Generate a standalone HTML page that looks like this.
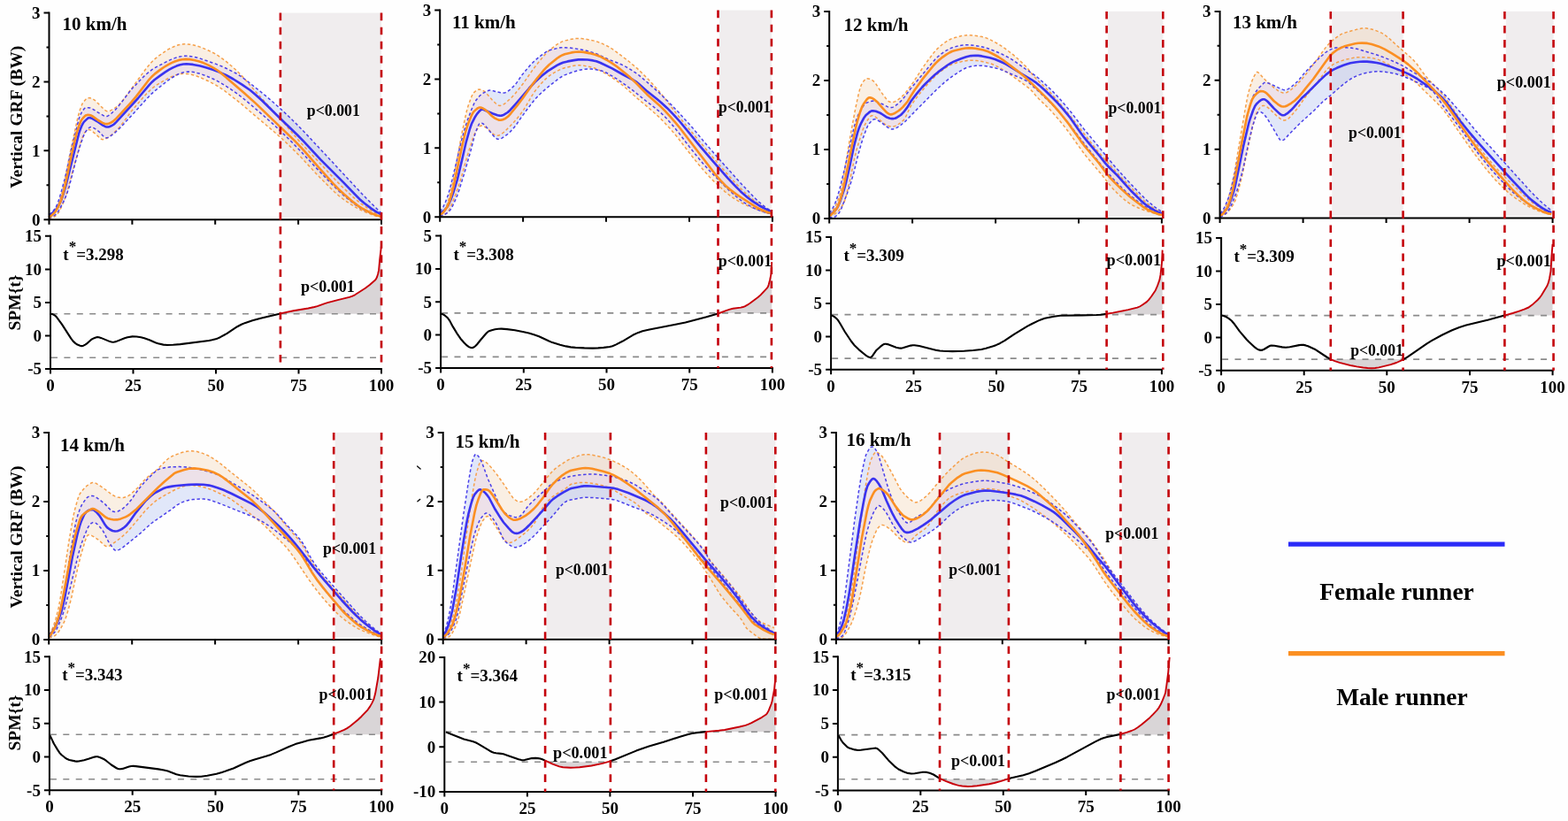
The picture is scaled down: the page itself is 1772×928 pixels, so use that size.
<!DOCTYPE html>
<html><head><meta charset="utf-8"><title>Vertical GRF SPM</title>
<style>html,body{margin:0;padding:0;background:#fefefe;width:1772px;height:928px;overflow:hidden}svg{display:block}</style>
</head><body>
<svg width="1772" height="928" viewBox="0 0 1772 928" style="font-family:'Liberation Serif','Times New Roman',serif;font-weight:bold"><rect x="318.4" y="14.6" width="112.6" height="231.1" fill="#f0edee"/>
<path d="M55,243 56.5,243.1 58.2,242.5 60,241.1 62,238.8 63.5,236.7 64.5,234.8 65.8,231.8 67.2,227.4 70,217.7 72.5,207.5 79,173.7 88,132.4 90.2,124.7 92,119.7 93.2,117 95.2,114.3 97.2,112.1 99,110.8 100.5,110.5 103,111 105.2,112 107.5,113.5 116.8,122.9 119.5,125.1 121,125.8 122.2,125.8 124,125.4 126,124.4 129.5,122.3 132,120.5 135,117.8 137.5,115.1 141,110.6 165.2,77.4 170,71.6 174.2,67.3 179.2,63.3 184.8,59.3 189.5,56.2 193.8,53.9 197.8,52.1 201.8,50.7 205.5,50 209,49.7 215,50.2 221.5,51.6 228.5,54 236.5,57.5 242.8,60.6 248.2,64 254.2,68.4 261.2,74.2 268,80.3 273.8,86.2 289,103.7 316.5,133.8 334,154.6 340.2,161.8 364,187.1 377.8,202 384.5,209 398.5,222.3 403.5,226.6 408.2,230.4 415.2,235.2 421.2,239 426.2,241.7 430.6,243.5 430.6,245.5 426,244.5 421,242.9 411,238.9 406.5,236.8 401.5,234.1 396,230.7 389.5,226.3 384,222.2 378,217 370.8,209.9 358.5,197.5 339.2,176.8 328.5,166.1 319.2,157.3 309,148.3 289.8,132.1 273,117.7 267,112.9 253.8,102.7 248,98.7 242.8,95.5 234.5,91.3 227.8,88.2 222.2,86 217.2,84.5 212.5,83.6 208,83.3 204.5,83.5 200.8,84.2 197,85.4 192.8,87.2 188,89.6 182.5,92.8 175.2,97.3 171.8,100 165.8,105.7 158.5,113.9 148.2,126.1 138.8,139 134.8,143.9 130.5,148.4 127.2,151.6 124.2,154 121,156.1 119,157.1 117.5,157.6 116,157.7 114.5,157.3 112.8,156.1 109,152.3 105.2,149.1 103.2,147.6 101.5,146.7 100.5,146.6 99.5,146.9 98,147.8 96.5,149 95.5,150.4 94.2,153 91,161.7 76,216.3 73.5,224.1 70.2,232.3 67.2,238.6 66,240.6 64.8,242.2 62,244.6 59.5,246.2 57.2,247 55,247Z" fill="rgba(241,205,165,0.3)" stroke="none"/>
<path d="M55,242 56.2,241.8 57.8,240.9 59.2,239.5 60.8,237.6 63.8,232.9 66.2,226.7 69,217.6 73.2,202.2 76.5,188.3 81,167 89,135.1 90,131.9 91.2,129.1 93,125.8 94.8,123.3 95.8,122.3 96.8,121.8 99.8,121.7 102,122 104.8,123.3 110.8,127.1 117.2,130.8 118.8,131.3 120,131.5 121,131.4 122.2,130.9 125,129 130,124.5 136.5,116.8 145.5,104.9 149.2,100.3 161.2,87.7 165.5,83.7 169.5,80.4 172.5,78.2 175.5,76.4 187,70.3 193.8,67.1 198.2,65.4 202.2,64.2 206.2,63.5 210,63.2 213.5,63.4 217.8,64.1 222.2,65 227,66.4 244.2,72.4 250.2,74.8 256.2,77.5 266,82.5 272,86.2 279.2,91.5 293.8,103 305,112.3 317.2,123.1 326.2,131.5 336,141.1 345.8,151.2 407.2,217.1 419,229.2 430.6,240.6 430.6,244 426.2,243.2 421.5,241.8 416,239.6 409.5,236.6 405.8,234.4 401.5,231.5 397,228 391.2,223.2 383.2,216.3 375.8,209 359.2,191.8 339.2,170.3 328,158.8 319.2,150.2 308.8,140.4 297,130 278.2,113.9 269.5,106.9 261.5,101.3 253.8,96.3 247,92.3 241,89.3 231.8,85.3 225,83 218.8,81.5 213,81.1 209.5,81.3 205.8,82.2 201.8,83.7 197.8,85.8 193.5,88.4 189,91.6 175.5,102.3 171.2,106.1 166.5,110.9 152.2,126.8 136.2,144 129.8,150.1 123.2,154.9 122,155.5 120.8,155.8 119.5,155.7 118.5,155.3 116.8,153.9 111.8,148.7 107.2,145.4 104.5,143.9 103.2,143.5 102,143.7 100.8,144.4 99.5,145.6 96.8,148.8 95.8,150.6 94.2,154.1 91.5,161.8 89.2,169.1 85.2,183.3 78,211.8 75.5,219.2 73,225.5 67.5,236.2 65.8,239.1 64.2,241.1 62,243.1 59.2,244.9 57,245.8 55,246Z" fill="rgba(158,178,238,0.3)" stroke="none"/>
<clipPath id="cb0"><path d="M55,242 56.2,241.8 57.8,240.9 59.2,239.5 60.8,237.6 63.8,232.9 66.2,226.7 69,217.6 73.2,202.2 76.5,188.3 81,167 89,135.1 90,131.9 91.2,129.1 93,125.8 94.8,123.3 95.8,122.3 96.8,121.8 99.8,121.7 102,122 104.8,123.3 110.8,127.1 117.2,130.8 118.8,131.3 120,131.5 121,131.4 122.2,130.9 125,129 130,124.5 136.5,116.8 145.5,104.9 149.2,100.3 161.2,87.7 165.5,83.7 169.5,80.4 172.5,78.2 175.5,76.4 187,70.3 193.8,67.1 198.2,65.4 202.2,64.2 206.2,63.5 210,63.2 213.5,63.4 217.8,64.1 222.2,65 227,66.4 244.2,72.4 250.2,74.8 256.2,77.5 266,82.5 272,86.2 279.2,91.5 293.8,103 305,112.3 317.2,123.1 326.2,131.5 336,141.1 345.8,151.2 407.2,217.1 419,229.2 430.6,240.6 430.6,244 426.2,243.2 421.5,241.8 416,239.6 409.5,236.6 405.8,234.4 401.5,231.5 397,228 391.2,223.2 383.2,216.3 375.8,209 359.2,191.8 339.2,170.3 328,158.8 319.2,150.2 308.8,140.4 297,130 278.2,113.9 269.5,106.9 261.5,101.3 253.8,96.3 247,92.3 241,89.3 231.8,85.3 225,83 218.8,81.5 213,81.1 209.5,81.3 205.8,82.2 201.8,83.7 197.8,85.8 193.5,88.4 189,91.6 175.5,102.3 171.2,106.1 166.5,110.9 152.2,126.8 136.2,144 129.8,150.1 123.2,154.9 122,155.5 120.8,155.8 119.5,155.7 118.5,155.3 116.8,153.9 111.8,148.7 107.2,145.4 104.5,143.9 103.2,143.5 102,143.7 100.8,144.4 99.5,145.6 96.8,148.8 95.8,150.6 94.2,154.1 91.5,161.8 89.2,169.1 85.2,183.3 78,211.8 75.5,219.2 73,225.5 67.5,236.2 65.8,239.1 64.2,241.1 62,243.1 59.2,244.9 57,245.8 55,246Z"/></clipPath>
<path d="M55,243 56.5,243.1 58.2,242.5 60,241.1 62,238.8 63.5,236.7 64.5,234.8 65.8,231.8 67.2,227.4 70,217.7 72.5,207.5 79,173.7 88,132.4 90.2,124.7 92,119.7 93.2,117 95.2,114.3 97.2,112.1 99,110.8 100.5,110.5 103,111 105.2,112 107.5,113.5 116.8,122.9 119.5,125.1 121,125.8 122.2,125.8 124,125.4 126,124.4 129.5,122.3 132,120.5 135,117.8 137.5,115.1 141,110.6 165.2,77.4 170,71.6 174.2,67.3 179.2,63.3 184.8,59.3 189.5,56.2 193.8,53.9 197.8,52.1 201.8,50.7 205.5,50 209,49.7 215,50.2 221.5,51.6 228.5,54 236.5,57.5 242.8,60.6 248.2,64 254.2,68.4 261.2,74.2 268,80.3 273.8,86.2 289,103.7 316.5,133.8 334,154.6 340.2,161.8 364,187.1 377.8,202 384.5,209 398.5,222.3 403.5,226.6 408.2,230.4 415.2,235.2 421.2,239 426.2,241.7 430.6,243.5 430.6,245.5 426,244.5 421,242.9 411,238.9 406.5,236.8 401.5,234.1 396,230.7 389.5,226.3 384,222.2 378,217 370.8,209.9 358.5,197.5 339.2,176.8 328.5,166.1 319.2,157.3 309,148.3 289.8,132.1 273,117.7 267,112.9 253.8,102.7 248,98.7 242.8,95.5 234.5,91.3 227.8,88.2 222.2,86 217.2,84.5 212.5,83.6 208,83.3 204.5,83.5 200.8,84.2 197,85.4 192.8,87.2 188,89.6 182.5,92.8 175.2,97.3 171.8,100 165.8,105.7 158.5,113.9 148.2,126.1 138.8,139 134.8,143.9 130.5,148.4 127.2,151.6 124.2,154 121,156.1 119,157.1 117.5,157.6 116,157.7 114.5,157.3 112.8,156.1 109,152.3 105.2,149.1 103.2,147.6 101.5,146.7 100.5,146.6 99.5,146.9 98,147.8 96.5,149 95.5,150.4 94.2,153 91,161.7 76,216.3 73.5,224.1 70.2,232.3 67.2,238.6 66,240.6 64.8,242.2 62,244.6 59.5,246.2 57.2,247 55,247Z" clip-path="url(#cb0)" fill="rgba(255,230,235,0.47)" stroke="none"/>
<path d="M55,243 56.5,243.1 58.2,242.5 60,241.1 62,238.8 63.5,236.7 64.5,234.8 65.8,231.8 67.2,227.4 70,217.7 72.5,207.5 79,173.7 88,132.4 90.2,124.7 92,119.7 93.2,117 95.2,114.3 97.2,112.1 99,110.8 100.5,110.5 103,111 105.2,112 107.5,113.5 116.8,122.9 119.5,125.1 121,125.8 122.2,125.8 124,125.4 126,124.4 129.5,122.3 132,120.5 135,117.8 137.5,115.1 141,110.6 165.2,77.4 170,71.6 174.2,67.3 179.2,63.3 184.8,59.3 189.5,56.2 193.8,53.9 197.8,52.1 201.8,50.7 205.5,50 209,49.7 215,50.2 221.5,51.6 228.5,54 236.5,57.5 242.8,60.6 248.2,64 254.2,68.4 261.2,74.2 268,80.3 273.8,86.2 289,103.7 316.5,133.8 334,154.6 340.2,161.8 364,187.1 377.8,202 384.5,209 398.5,222.3 403.5,226.6 408.2,230.4 415.2,235.2 421.2,239 426.2,241.7 430.6,243.5" fill="none" stroke="#f6a04a" stroke-width="1.5" stroke-dasharray="3.4 2.6"/>
<path d="M55,247 57.2,247 59.5,246.2 62,244.6 64.8,242.2 66,240.6 67.2,238.6 70.2,232.3 73.5,224.1 76,216.3 91,161.7 94.2,153 95.5,150.4 96.5,149 98,147.8 99.5,146.9 100.5,146.6 101.5,146.7 103.2,147.6 105.2,149.1 109,152.3 112.8,156.1 114.5,157.3 116,157.7 117.5,157.6 119,157.1 121,156.1 124.2,154 127.2,151.6 130.5,148.4 134.8,143.9 138.8,139 148.2,126.1 158.5,113.9 165.8,105.7 171.8,100 175.2,97.3 182.5,92.8 188,89.6 192.8,87.2 197,85.4 200.8,84.2 204.5,83.5 208,83.3 212.5,83.6 217.2,84.5 222.2,86 227.8,88.2 234.5,91.3 242.8,95.5 248,98.7 253.8,102.7 267,112.9 273,117.7 289.8,132.1 309,148.3 319.2,157.3 328.5,166.1 339.2,176.8 358.5,197.5 370.8,209.9 378,217 384,222.2 389.5,226.3 396,230.7 401.5,234.1 406.5,236.8 411,238.9 421,242.9 426,244.5 430.6,245.5" fill="none" stroke="#f6a04a" stroke-width="1.5" stroke-dasharray="3.4 2.6"/>
<path d="M55,242 56.2,241.8 57.8,240.9 59.2,239.5 60.8,237.6 63.8,232.9 66.2,226.7 69,217.6 73.2,202.2 76.5,188.3 81,167 89,135.1 90,131.9 91.2,129.1 93,125.8 94.8,123.3 95.8,122.3 96.8,121.8 99.8,121.7 102,122 104.8,123.3 110.8,127.1 117.2,130.8 118.8,131.3 120,131.5 121,131.4 122.2,130.9 125,129 130,124.5 136.5,116.8 145.5,104.9 149.2,100.3 161.2,87.7 165.5,83.7 169.5,80.4 172.5,78.2 175.5,76.4 187,70.3 193.8,67.1 198.2,65.4 202.2,64.2 206.2,63.5 210,63.2 213.5,63.4 217.8,64.1 222.2,65 227,66.4 244.2,72.4 250.2,74.8 256.2,77.5 266,82.5 272,86.2 279.2,91.5 293.8,103 305,112.3 317.2,123.1 326.2,131.5 336,141.1 345.8,151.2 407.2,217.1 419,229.2 430.6,240.6" fill="none" stroke="#4a40ea" stroke-width="1.5" stroke-dasharray="3.4 2.6"/>
<path d="M55,246 57,245.8 59.2,244.9 62,243.1 64.2,241.1 65.8,239.1 67.5,236.2 73,225.5 75.5,219.2 78,211.8 85.2,183.3 89.2,169.1 91.5,161.8 94.2,154.1 95.8,150.6 96.8,148.8 99.5,145.6 100.8,144.4 102,143.7 103.2,143.5 104.5,143.9 107.2,145.4 111.8,148.7 116.8,153.9 118.5,155.3 119.5,155.7 120.8,155.8 122,155.5 123.2,154.9 129.8,150.1 136.2,144 152.2,126.8 166.5,110.9 171.2,106.1 175.5,102.3 189,91.6 193.5,88.4 197.8,85.8 201.8,83.7 205.8,82.2 209.5,81.3 213,81.1 218.8,81.5 225,83 231.8,85.3 241,89.3 247,92.3 253.8,96.3 261.5,101.3 269.5,106.9 278.2,113.9 297,130 308.8,140.4 319.2,150.2 328,158.8 339.2,170.3 359.2,191.8 375.8,209 383.2,216.3 391.2,223.2 397,228 401.5,231.5 405.8,234.4 409.5,236.6 416,239.6 421.5,241.8 426.2,243.2 430.6,244" fill="none" stroke="#4a40ea" stroke-width="1.5" stroke-dasharray="3.4 2.6"/>
<path d="M55,243 56.5,242.5 58.2,241.5 61.8,238.7 63,237.3 64.5,235.3 66.2,232.3 68.2,228.5 69.5,225.5 72,218.1 75.2,206.8 80.8,184.2 89.2,150.7 90.5,146.8 92.2,142.5 93.8,139.4 95,137.6 99,133.9 100.2,133.2 101.5,133 103.5,133.7 106.2,135.1 110,137.3 116.2,141.7 119.2,143.2 120.8,143.5 122.5,143.5 124.2,143 126.5,141.9 128.8,140.5 131.2,138.1 156,111 168.8,95.8 171.8,92.7 174.5,90.2 180.8,85.6 186.5,81.6 191.2,78.7 195.5,76.4 199.5,74.6 203.5,73.3 207.2,72.5 210.8,72.3 218,72.9 226.2,74.6 232.5,76.3 240.5,78.8 248,81.6 256,85.2 263.8,89.5 273.5,95.6 282.8,102 289,107.2 296.2,113.8 315.8,133 336,152.5 343.5,160.2 362.5,180.6 387.8,205.8 400.8,219.4 406.2,224.9 411.8,229.7 419.8,235.9 425.5,239.6 430.6,242.2" fill="none" stroke="#3a33f0" stroke-width="2.6" stroke-linejoin="round"/>
<path d="M55,245.4 56.5,244.8 58.2,243.6 61.5,240.5 62.8,239 65.8,233.8 69,226.4 71,219.9 73.5,210.2 81.2,173.5 86.2,152.2 89,143 90.8,138.2 92,135.8 94.2,133 96,131.2 97.5,130.2 98.8,129.9 101.2,130 102.8,130.4 104.2,131.1 111,136 115.5,138.6 118,139.7 119.8,140.1 121.5,140.1 123.5,139.5 125.8,138.4 128.2,136.8 130.5,134.8 148.5,115.4 154,108.9 167.5,91.2 171.2,87 174.8,83.6 180,79.6 185.2,76 190,73.1 194.2,70.9 198.2,69.2 202.2,67.9 206,67.2 209.8,66.9 214.5,67.1 219.5,68 224.5,69.3 229.8,71.1 235.5,73.6 241.5,76.8 245.8,79.5 250.2,82.9 275.5,104.7 289,116.9 333.5,159.6 343.2,169.8 359.8,188.8 376.2,207.2 382.8,214 388.5,219.3 394.8,224.8 399.8,228.9 404.2,232.3 408.5,235.1 415.8,239 421.5,241.8 426.2,243.6 430.6,244.7" fill="none" stroke="#fb8f22" stroke-width="2.6" stroke-linejoin="round"/>
<path d="M316.8,354.7 316.8,354.4 331.6,351.2 348.3,348.5 355.3,347 358.6,346.1 366.3,343.3 370.1,342.2 381.6,339.1 394.8,335.9 397.8,334.9 401.1,333.3 412.8,325.8 417.8,322 424.1,316.5 425.1,315.2 426.1,313 427.1,309.8 428.1,305.4 429.1,294.1 430.9,278.4 430.9,354.7Z" fill="#d9d5d7" stroke="none"/>
<path d="M55.5,13.6 V248.2 H432.0" fill="none" stroke="#000" stroke-width="2"/>
<path d="M49.5,248.2 H55.5 M49.5,170.3 H55.5 M49.5,92.5 H55.5 M49.5,14.6 H55.5 M52.5,209.3 H55.5 M52.5,131.4 H55.5 M52.5,53.5 H55.5 M55.5,248.2 V253.7 M149.4,248.2 V253.7 M243.2,248.2 V253.7 M337.1,248.2 V253.7 M431.0,248.2 V253.7" stroke="#000" stroke-width="2" fill="none"/>
<text x="45.5" y="254.5" font-size="19" text-anchor="end" >0</text>
<text x="45.5" y="176.6" font-size="19" text-anchor="end" >1</text>
<text x="45.5" y="98.8" font-size="19" text-anchor="end" >2</text>
<text x="45.5" y="20.9" font-size="19" text-anchor="end" >3</text>
<path d="M57.0,265.8 V417.0 H432.0" fill="none" stroke="#000" stroke-width="2"/>
<path d="M51.0,266.8 H57.0 M51.0,304.4 H57.0 M51.0,341.9 H57.0 M51.0,379.4 H57.0 M51.0,417.0 H57.0 M57.0,417.0 V422.5 M150.5,417.0 V422.5 M244.0,417.0 V422.5 M337.5,417.0 V422.5 M431.0,417.0 V422.5" stroke="#000" stroke-width="2" fill="none"/>
<text x="47.0" y="273.1" font-size="19" text-anchor="end" >15</text>
<text x="47.0" y="310.7" font-size="19" text-anchor="end" >10</text>
<text x="47.0" y="348.2" font-size="19" text-anchor="end" >5</text>
<text x="47.0" y="385.8" font-size="19" text-anchor="end" >0</text>
<text x="47.0" y="423.3" font-size="19" text-anchor="end" >-5</text>
<text x="57.0" y="441.8" font-size="19" text-anchor="middle" >0</text>
<text x="150.5" y="441.8" font-size="19" text-anchor="middle" >25</text>
<text x="244.0" y="441.8" font-size="19" text-anchor="middle" >50</text>
<text x="337.5" y="441.8" font-size="19" text-anchor="middle" >75</text>
<text x="431.0" y="441.8" font-size="19" text-anchor="middle" >100</text>
<path d="M58.0,354.7 H431.0" stroke="#8a8a8a" stroke-width="1.6" stroke-dasharray="7 7.4" fill="none"/>
<path d="M58.0,404.2 H431.0" stroke="#8a8a8a" stroke-width="1.6" stroke-dasharray="7 7.4" fill="none"/>
<path d="M57.3,354.7 59,355 61.3,356.1 62.8,357.2 64.3,358.8 70,366.6 80.3,382.6 82.8,385.9 85.3,388.1 87.5,389.6 90.5,390.7 92.5,391.1 94.3,390.7 96.3,389.6 98.8,387.8 102.5,384.4 104.3,383.1 107.5,381.7 110,381.1 111.8,381.3 114,381.9 124.3,386.1 126,386.5 127.8,386.7 129.3,386.5 131.1,386.1 140.8,382.2 144.1,381.2 149.6,380.4 154.3,380.5 159.3,381.3 163.1,382.3 168.8,384.3 175.6,387.3 178.6,388.3 184.6,389.6 189.1,390 195.6,389.8 203.6,389.1 236.1,385 239.6,384.3 243.6,383.2 246.1,382.4 248.8,381.2 256.6,376.9 268.1,369.2 272.8,366.8 277.3,364.9 285.3,362.3 294.6,359.7 316.8,354.4" fill="none" stroke="#000" stroke-width="2.1" stroke-linejoin="round"/>
<path d="M316.8,354.4 331.6,351.2 348.3,348.5 355.3,347 358.6,346.1 366.3,343.3 370.1,342.2 381.6,339.1 394.8,335.9 397.8,334.9 401.1,333.3 412.8,325.8 417.8,322 424.1,316.5 425.1,315.2 426.1,313 427.1,309.8 428.1,305.4 429.1,294.1 430.9,278.4" fill="none" stroke="#c8000a" stroke-width="1.9" stroke-linejoin="round"/>
<path d="M316.9,14.6 V417.0" stroke="#c4000b" stroke-width="2.6" stroke-dasharray="8.6 7.5" fill="none"/>
<path d="M431.0,14.6 V417.0" stroke="#c4000b" stroke-width="2.6" stroke-dasharray="8.6 7.5" fill="none"/>
<text x="70.6" y="33.5" font-size="21" text-anchor="start" >10 km/h</text>
<text x="71.3" y="293.9" font-size="19" text-anchor="start" >t<tspan dy="-9.5" font-size="17">*</tspan><tspan dy="9.5">=3.298</tspan></text>
<rect x="813.0" y="11.6" width="58.9" height="231.1" fill="#f0edee"/>
<path d="M497,241 498.2,241.1 499.5,240.6 501,239.2 502.5,237.1 503.8,235 504.8,232.6 507,225.6 509.5,215.7 512.5,202.3 522,150.4 526.5,129.3 528.2,122.4 529.8,117.5 533,109 534.2,106.4 535.2,104.9 538,102.5 540.2,101.2 542,101 544.2,101.6 546.8,103 549.2,104.9 555.8,112.6 559.8,116.5 561.8,118.2 563.2,119 564.8,119.4 566.5,119.2 568.2,118.5 570.5,117.1 573.2,114.7 578.8,109.5 582.5,105.4 591.8,93.7 602,78.9 605.8,73.9 614.5,63.2 617.8,59.7 620.5,57.1 629.2,50.4 632.5,48.4 635.5,46.9 638.2,46 645.8,44.3 649.8,43.6 653.5,43.4 657.2,43.6 661.5,44.1 672.5,46.3 679,48.6 687,52.3 691.2,54.8 696.5,58.6 710.8,69.5 720.2,77.4 725.2,82.2 732.5,89.6 738.8,96.3 744.8,103.1 751,110.7 764,127.9 779.8,147.1 815,188.9 822.8,197.7 832,207.9 841,217 846.8,222.1 852,226.5 857.2,230.5 862.8,234.4 867.5,237.4 871.4,239.5 871.4,242.6 852,235.5 845.5,232.9 840.2,230.5 835,227.7 829.2,224.1 823.8,220.2 819.2,216.6 806.2,204.4 801,199.1 796,193.5 789.8,186.2 781,175.3 765.2,154.7 757.8,146 750.8,138.4 744.8,132.4 737.8,126 729.2,118.7 719,110.2 707,99.3 701.5,94.7 695.2,90.1 689.8,86.4 680.5,80.9 675.2,78.2 671.2,76.7 664,74.9 659,74.1 654.5,73.8 650.8,74 646.5,74.7 638.2,76.7 635,77.7 631,79.6 626.2,82.2 621.2,85.4 617.8,88.2 614.8,91 611.8,94.2 605,102.4 601.5,107.7 592.2,123.5 590,126.7 585.5,132.5 580.8,138.1 576,143.1 569,149.8 566,152.1 564.5,152.8 563,153.2 561.5,153.2 560,152.9 558.5,152.2 557.2,151.4 551,145.5 547,142.9 545.2,142.2 543.8,142 542.5,142.5 541.2,143.6 539.5,145.8 537.2,149.4 536,152.1 534.5,156 528.8,174.1 522.5,196.3 517.8,211.6 514.5,221.1 510,232.1 507,238.1 505.8,239.9 504.5,241.2 502.5,242.8 500.5,243.8 498.8,244.2 497,244Z" fill="rgba(241,205,165,0.3)" stroke="none"/>
<path d="M497,239 498,238.1 499,236.9 501,233.6 503.5,228.1 506.2,220.9 508,215 510,207.2 514.5,188.7 520.8,161.7 525,146.3 528.5,135.3 532.8,124 535.5,117.6 538,113.3 541.5,109 544.2,106.4 545.8,105.3 549.5,103.3 552.2,102.2 553.8,102 555.2,102.1 562.5,104.1 568.2,105.1 569.5,105.1 570.8,104.8 573.2,103.7 576.8,101 582,96 584,93.4 589.5,85.3 596,77.4 600.2,72.6 604.8,68.1 611.5,62.6 616.8,58.9 619,57.7 621.2,56.7 630.8,54.3 634.2,53.7 637.2,53.6 645.5,54.2 656.5,55.9 664.5,57.7 672.2,60.1 676.2,61.8 686.8,66.8 699.5,71.7 705,74.2 709,76.4 713.5,79.1 719.5,83.1 722.5,85.4 734.5,95.6 745.8,105.8 755.8,115.5 767,127.1 782,143.7 799.2,164.4 816,183.6 836.8,206.7 851.5,222.3 856.8,227.5 862,231.9 867,235.7 871.4,238.3 871.4,241.7 866,240.5 858,237.8 853,235.7 847.2,232.7 841.2,229.2 837,226.2 831.8,222 824.2,215.4 803,194.2 797.8,188.6 792,182 784.8,173.1 779,165.9 767.2,150.3 758.8,140.1 753.8,134.5 749.5,130.1 745.5,126.4 740.8,122.4 730.5,114.5 715.8,102.7 707,96.1 699,90.4 691.2,85.6 684.8,82 679.8,80 672.2,78.4 668.8,78 665.5,77.9 659.8,78.3 653.5,79.6 646.5,81.7 638,84.9 635,86.5 631.8,88.6 620.5,97.4 615.8,101.4 611.5,105.2 607.2,109.4 603.8,113.2 596.5,122.6 589.2,132.5 582.8,141.9 578.5,147 576,149.5 573.8,151.5 569.2,154.9 566.8,156.4 565,157.1 563.2,157.3 562,157.2 560.8,156.5 559.2,155.2 555.8,151.4 550,143.9 547.5,141.2 546,140 544.5,139.2 543,138.9 542.2,139.3 541.2,140.6 540.2,142.5 537.2,150.3 535.8,155.5 532,170.3 525,195 518.8,215.1 516.8,220.8 514.8,225.6 510.8,234.2 509.2,236.7 507.8,238.6 504.8,241.1 502,242.7 499.5,243.5 497,243.5Z" fill="rgba(158,178,238,0.3)" stroke="none"/>
<clipPath id="cb1"><path d="M497,239 498,238.1 499,236.9 501,233.6 503.5,228.1 506.2,220.9 508,215 510,207.2 514.5,188.7 520.8,161.7 525,146.3 528.5,135.3 532.8,124 535.5,117.6 538,113.3 541.5,109 544.2,106.4 545.8,105.3 549.5,103.3 552.2,102.2 553.8,102 555.2,102.1 562.5,104.1 568.2,105.1 569.5,105.1 570.8,104.8 573.2,103.7 576.8,101 582,96 584,93.4 589.5,85.3 596,77.4 600.2,72.6 604.8,68.1 611.5,62.6 616.8,58.9 619,57.7 621.2,56.7 630.8,54.3 634.2,53.7 637.2,53.6 645.5,54.2 656.5,55.9 664.5,57.7 672.2,60.1 676.2,61.8 686.8,66.8 699.5,71.7 705,74.2 709,76.4 713.5,79.1 719.5,83.1 722.5,85.4 734.5,95.6 745.8,105.8 755.8,115.5 767,127.1 782,143.7 799.2,164.4 816,183.6 836.8,206.7 851.5,222.3 856.8,227.5 862,231.9 867,235.7 871.4,238.3 871.4,241.7 866,240.5 858,237.8 853,235.7 847.2,232.7 841.2,229.2 837,226.2 831.8,222 824.2,215.4 803,194.2 797.8,188.6 792,182 784.8,173.1 779,165.9 767.2,150.3 758.8,140.1 753.8,134.5 749.5,130.1 745.5,126.4 740.8,122.4 730.5,114.5 715.8,102.7 707,96.1 699,90.4 691.2,85.6 684.8,82 679.8,80 672.2,78.4 668.8,78 665.5,77.9 659.8,78.3 653.5,79.6 646.5,81.7 638,84.9 635,86.5 631.8,88.6 620.5,97.4 615.8,101.4 611.5,105.2 607.2,109.4 603.8,113.2 596.5,122.6 589.2,132.5 582.8,141.9 578.5,147 576,149.5 573.8,151.5 569.2,154.9 566.8,156.4 565,157.1 563.2,157.3 562,157.2 560.8,156.5 559.2,155.2 555.8,151.4 550,143.9 547.5,141.2 546,140 544.5,139.2 543,138.9 542.2,139.3 541.2,140.6 540.2,142.5 537.2,150.3 535.8,155.5 532,170.3 525,195 518.8,215.1 516.8,220.8 514.8,225.6 510.8,234.2 509.2,236.7 507.8,238.6 504.8,241.1 502,242.7 499.5,243.5 497,243.5Z"/></clipPath>
<path d="M497,241 498.2,241.1 499.5,240.6 501,239.2 502.5,237.1 503.8,235 504.8,232.6 507,225.6 509.5,215.7 512.5,202.3 522,150.4 526.5,129.3 528.2,122.4 529.8,117.5 533,109 534.2,106.4 535.2,104.9 538,102.5 540.2,101.2 542,101 544.2,101.6 546.8,103 549.2,104.9 555.8,112.6 559.8,116.5 561.8,118.2 563.2,119 564.8,119.4 566.5,119.2 568.2,118.5 570.5,117.1 573.2,114.7 578.8,109.5 582.5,105.4 591.8,93.7 602,78.9 605.8,73.9 614.5,63.2 617.8,59.7 620.5,57.1 629.2,50.4 632.5,48.4 635.5,46.9 638.2,46 645.8,44.3 649.8,43.6 653.5,43.4 657.2,43.6 661.5,44.1 672.5,46.3 679,48.6 687,52.3 691.2,54.8 696.5,58.6 710.8,69.5 720.2,77.4 725.2,82.2 732.5,89.6 738.8,96.3 744.8,103.1 751,110.7 764,127.9 779.8,147.1 815,188.9 822.8,197.7 832,207.9 841,217 846.8,222.1 852,226.5 857.2,230.5 862.8,234.4 867.5,237.4 871.4,239.5 871.4,242.6 852,235.5 845.5,232.9 840.2,230.5 835,227.7 829.2,224.1 823.8,220.2 819.2,216.6 806.2,204.4 801,199.1 796,193.5 789.8,186.2 781,175.3 765.2,154.7 757.8,146 750.8,138.4 744.8,132.4 737.8,126 729.2,118.7 719,110.2 707,99.3 701.5,94.7 695.2,90.1 689.8,86.4 680.5,80.9 675.2,78.2 671.2,76.7 664,74.9 659,74.1 654.5,73.8 650.8,74 646.5,74.7 638.2,76.7 635,77.7 631,79.6 626.2,82.2 621.2,85.4 617.8,88.2 614.8,91 611.8,94.2 605,102.4 601.5,107.7 592.2,123.5 590,126.7 585.5,132.5 580.8,138.1 576,143.1 569,149.8 566,152.1 564.5,152.8 563,153.2 561.5,153.2 560,152.9 558.5,152.2 557.2,151.4 551,145.5 547,142.9 545.2,142.2 543.8,142 542.5,142.5 541.2,143.6 539.5,145.8 537.2,149.4 536,152.1 534.5,156 528.8,174.1 522.5,196.3 517.8,211.6 514.5,221.1 510,232.1 507,238.1 505.8,239.9 504.5,241.2 502.5,242.8 500.5,243.8 498.8,244.2 497,244Z" clip-path="url(#cb1)" fill="rgba(255,230,235,0.47)" stroke="none"/>
<path d="M497,241 498.2,241.1 499.5,240.6 501,239.2 502.5,237.1 503.8,235 504.8,232.6 507,225.6 509.5,215.7 512.5,202.3 522,150.4 526.5,129.3 528.2,122.4 529.8,117.5 533,109 534.2,106.4 535.2,104.9 538,102.5 540.2,101.2 542,101 544.2,101.6 546.8,103 549.2,104.9 555.8,112.6 559.8,116.5 561.8,118.2 563.2,119 564.8,119.4 566.5,119.2 568.2,118.5 570.5,117.1 573.2,114.7 578.8,109.5 582.5,105.4 591.8,93.7 602,78.9 605.8,73.9 614.5,63.2 617.8,59.7 620.5,57.1 629.2,50.4 632.5,48.4 635.5,46.9 638.2,46 645.8,44.3 649.8,43.6 653.5,43.4 657.2,43.6 661.5,44.1 672.5,46.3 679,48.6 687,52.3 691.2,54.8 696.5,58.6 710.8,69.5 720.2,77.4 725.2,82.2 732.5,89.6 738.8,96.3 744.8,103.1 751,110.7 764,127.9 779.8,147.1 815,188.9 822.8,197.7 832,207.9 841,217 846.8,222.1 852,226.5 857.2,230.5 862.8,234.4 867.5,237.4 871.4,239.5" fill="none" stroke="#f6a04a" stroke-width="1.5" stroke-dasharray="3.4 2.6"/>
<path d="M497,244 498.8,244.2 500.5,243.8 502.5,242.8 504.5,241.2 505.8,239.9 507,238.1 510,232.1 514.5,221.1 517.8,211.6 522.5,196.3 528.8,174.1 534.5,156 536,152.1 537.2,149.4 539.5,145.8 541.2,143.6 542.5,142.5 543.8,142 545.2,142.2 547,142.9 551,145.5 557.2,151.4 558.5,152.2 560,152.9 561.5,153.2 563,153.2 564.5,152.8 566,152.1 569,149.8 576,143.1 580.8,138.1 585.5,132.5 590,126.7 592.2,123.5 601.5,107.7 605,102.4 611.8,94.2 614.8,91 617.8,88.2 621.2,85.4 626.2,82.2 631,79.6 635,77.7 638.2,76.7 646.5,74.7 650.8,74 654.5,73.8 659,74.1 664,74.9 671.2,76.7 675.2,78.2 680.5,80.9 689.8,86.4 695.2,90.1 701.5,94.7 707,99.3 719,110.2 729.2,118.7 737.8,126 744.8,132.4 750.8,138.4 757.8,146 765.2,154.7 781,175.3 789.8,186.2 796,193.5 801,199.1 806.2,204.4 819.2,216.6 823.8,220.2 829.2,224.1 835,227.7 840.2,230.5 845.5,232.9 852,235.5 871.4,242.6" fill="none" stroke="#f6a04a" stroke-width="1.5" stroke-dasharray="3.4 2.6"/>
<path d="M497,239 498,238.1 499,236.9 501,233.6 503.5,228.1 506.2,220.9 508,215 510,207.2 514.5,188.7 520.8,161.7 525,146.3 528.5,135.3 532.8,124 535.5,117.6 538,113.3 541.5,109 544.2,106.4 545.8,105.3 549.5,103.3 552.2,102.2 553.8,102 555.2,102.1 562.5,104.1 568.2,105.1 569.5,105.1 570.8,104.8 573.2,103.7 576.8,101 582,96 584,93.4 589.5,85.3 596,77.4 600.2,72.6 604.8,68.1 611.5,62.6 616.8,58.9 619,57.7 621.2,56.7 630.8,54.3 634.2,53.7 637.2,53.6 645.5,54.2 656.5,55.9 664.5,57.7 672.2,60.1 676.2,61.8 686.8,66.8 699.5,71.7 705,74.2 709,76.4 713.5,79.1 719.5,83.1 722.5,85.4 734.5,95.6 745.8,105.8 755.8,115.5 767,127.1 782,143.7 799.2,164.4 816,183.6 836.8,206.7 851.5,222.3 856.8,227.5 862,231.9 867,235.7 871.4,238.3" fill="none" stroke="#4a40ea" stroke-width="1.5" stroke-dasharray="3.4 2.6"/>
<path d="M497,243.5 499.5,243.5 502,242.7 504.8,241.1 507.8,238.6 509.2,236.7 510.8,234.2 514.8,225.6 516.8,220.8 518.8,215.1 525,195 532,170.3 535.8,155.5 537.2,150.3 540.2,142.5 541.2,140.6 542.2,139.3 543,138.9 544.5,139.2 546,140 547.5,141.2 550,143.9 555.8,151.4 559.2,155.2 560.8,156.5 562,157.2 563.2,157.3 565,157.1 566.8,156.4 569.2,154.9 573.8,151.5 576,149.5 578.5,147 582.8,141.9 589.2,132.5 596.5,122.6 603.8,113.2 607.2,109.4 611.5,105.2 615.8,101.4 620.5,97.4 631.8,88.6 635,86.5 638,84.9 646.5,81.7 653.5,79.6 659.8,78.3 665.5,77.9 668.8,78 672.2,78.4 679.8,80 684.8,82 691.2,85.6 699,90.4 707,96.1 715.8,102.7 730.5,114.5 740.8,122.4 745.5,126.4 749.5,130.1 753.8,134.5 758.8,140.1 767.2,150.3 779,165.9 784.8,173.1 792,182 797.8,188.6 803,194.2 824.2,215.4 831.8,222 837,226.2 841.2,229.2 847.2,232.7 853,235.7 858,237.8 866,240.5 871.4,241.7" fill="none" stroke="#4a40ea" stroke-width="1.5" stroke-dasharray="3.4 2.6"/>
<path d="M497,240.3 498.5,240.2 500,239.5 501.8,238.1 503.5,236.3 505.5,233.8 506.5,232.2 509.2,226.2 512.5,217 516.8,203.1 522,181.3 526.8,160.3 531,145.5 533.2,139.3 536.5,132.8 539,128.9 542.2,125.2 544,123.7 545.2,123.5 547.2,124.2 551.8,126.3 556.5,128.2 562.2,130.2 564.5,130.6 566.2,130.7 567.8,130.4 569.5,129.7 573.8,127 576.8,124.2 582.5,117.8 597.8,100 604.2,93 612.2,85.7 619,80.4 629.8,73.7 633.2,72 636.2,70.7 641.5,69.4 648.5,68.1 653.5,67.4 658.2,67.2 664,67.5 670.2,68.4 674,69.3 678.5,71 691.8,77.4 703.5,84 715,90 718.8,92.3 721.2,94.2 730.2,102.3 742.8,112.2 747.5,116.2 754,122.2 761,129.3 768.8,138 791.5,165.6 805.2,181.7 822.5,201.3 831.5,210.9 836.8,216.2 840.5,219.6 844.5,222.9 849.2,226.6 853.8,229.7 858.2,232.5 864,235.7 868,237.7 871.4,239.1" fill="none" stroke="#3a33f0" stroke-width="2.6" stroke-linejoin="round"/>
<path d="M497,242.4 498.2,242.1 499.5,241.4 501,240 502.5,238.1 505.8,233.3 508,227.6 510.2,220 512.5,211.2 521.8,166.8 525.5,151.5 527.5,144.5 529.5,138.7 533,130.3 534.2,127.9 535.5,126.1 538.5,123.4 540.2,122.1 541.8,121.5 543.2,121.5 545.8,122.5 548.5,124.2 551.2,126.4 556,131.3 559.2,133.6 561.8,134.9 564,135.7 566,135.8 568.2,135.3 570.8,134.1 574,131.8 577.2,128.3 584.8,119 590.2,111.8 601.5,95.8 605.5,90.4 614.2,79.7 617.5,76.2 620.5,73.3 629.8,65.8 633,63.6 635.8,62.2 638.2,61.3 645.8,59.4 650,58.7 653.8,58.5 659.5,58.9 666,60.1 672.5,61.7 677.8,63.7 685.2,67.5 691.2,71.1 697.8,75.7 706.2,82.4 712.2,87.6 719.5,94.5 731.2,106.7 746.5,120.3 752,125.9 757.5,131.9 764,139.4 768.8,145.3 808.5,197.3 814.2,203.9 820,209.9 824.8,214.1 831.5,219.1 838,223.5 853,233.2 857.8,235.9 863.2,238.3 867.8,240 871.4,240.9" fill="none" stroke="#fb8f22" stroke-width="2.6" stroke-linejoin="round"/>
<path d="M811.4,353.9 811.4,353.9 813.1,353.9 821.4,350.7 825.4,349.4 828.6,348.8 836.9,347.7 841.4,346.4 844.1,345 847.4,342.9 856.6,336 859.4,333.7 867.1,325.4 868.4,322.8 869.9,317.5 871.6,308.9 872.2,296.1 872.2,353.9Z" fill="#d9d5d7" stroke="none"/>
<path d="M497.2,10.6 V245.2 H873.9" fill="none" stroke="#000" stroke-width="2"/>
<path d="M491.2,245.2 H497.2 M491.2,167.3 H497.2 M491.2,89.5 H497.2 M491.2,11.6 H497.2 M494.2,206.3 H497.2 M494.2,128.4 H497.2 M494.2,50.5 H497.2 M497.2,245.2 V250.7 M591.1,245.2 V250.7 M685.0,245.2 V250.7 M779.0,245.2 V250.7 M872.9,245.2 V250.7" stroke="#000" stroke-width="2" fill="none"/>
<text x="487.2" y="251.5" font-size="19" text-anchor="end" >0</text>
<text x="487.2" y="173.6" font-size="19" text-anchor="end" >1</text>
<text x="487.2" y="95.8" font-size="19" text-anchor="end" >2</text>
<text x="487.2" y="17.9" font-size="19" text-anchor="end" >3</text>
<path d="M498.1,265.5 V416.0 H873.9" fill="none" stroke="#000" stroke-width="2"/>
<path d="M492.1,266.5 H498.1 M492.1,303.9 H498.1 M492.1,341.2 H498.1 M492.1,378.6 H498.1 M492.1,416.0 H498.1 M498.1,416.0 V421.5 M591.8,416.0 V421.5 M685.5,416.0 V421.5 M779.2,416.0 V421.5 M872.9,416.0 V421.5" stroke="#000" stroke-width="2" fill="none"/>
<text x="488.1" y="272.8" font-size="19" text-anchor="end" >5</text>
<text x="488.1" y="310.2" font-size="19" text-anchor="end" >10</text>
<text x="488.1" y="347.6" font-size="19" text-anchor="end" >5</text>
<text x="488.1" y="384.9" font-size="19" text-anchor="end" >0</text>
<text x="488.1" y="422.3" font-size="19" text-anchor="end" >-5</text>
<text x="498.1" y="440.8" font-size="19" text-anchor="middle" >0</text>
<text x="591.8" y="440.8" font-size="19" text-anchor="middle" >25</text>
<text x="685.5" y="440.8" font-size="19" text-anchor="middle" >50</text>
<text x="779.2" y="440.8" font-size="19" text-anchor="middle" >75</text>
<text x="872.9" y="440.8" font-size="19" text-anchor="middle" >100</text>
<path d="M499.1,353.9 H872.9" stroke="#8a8a8a" stroke-width="1.6" stroke-dasharray="7 7.4" fill="none"/>
<path d="M499.1,403.4 H872.9" stroke="#8a8a8a" stroke-width="1.6" stroke-dasharray="7 7.4" fill="none"/>
<path d="M498.6,354.8 500.4,355.2 502.1,356.1 504.1,357.7 506.1,359.6 507.9,362.1 511.9,369.4 516.6,377.1 520.4,382.7 524.6,387.5 527.6,390.4 529.9,392.1 532.1,393 533.4,393.1 534.6,392.9 535.9,392.3 537.1,391.3 538.9,389.5 542.9,384.5 549.1,377.3 550.6,375.7 552.1,374.5 554.9,373.5 559.4,372.3 563.1,371.8 566.6,371.6 573.1,372.1 581.9,373.3 591.9,375.2 597.6,376.5 603.4,378.2 609.1,380.2 620.4,385.5 624.1,387.1 632.9,389.7 639.6,391.4 644.9,392.4 650.4,392.9 660.4,393.4 669.9,393.6 675.9,393.4 682.1,392.9 689.1,392 692.1,391.2 695.9,389.6 703.4,385.8 715.1,378.8 721.4,375.9 726.1,374.2 733.9,372.5 763.4,366.8 774.6,364.5 798.4,358.3 811.4,354.5" fill="none" stroke="#000" stroke-width="2.1" stroke-linejoin="round"/>
<path d="M811.4,354.5 821.1,350.8 824.9,349.6 828.4,348.8 837.1,347.6 839.6,347 841.6,346.3 844.6,344.7 847.9,342.5 856.6,336 859.6,333.4 867.1,325.4 867.9,324.1 868.6,322.1 870.1,316.4 871.6,308.9 872.2,296.1" fill="none" stroke="#c8000a" stroke-width="1.9" stroke-linejoin="round"/>
<path d="M811.5,11.6 V416.0" stroke="#c4000b" stroke-width="2.6" stroke-dasharray="8.6 7.5" fill="none"/>
<path d="M871.9,11.6 V416.0" stroke="#c4000b" stroke-width="2.6" stroke-dasharray="8.6 7.5" fill="none"/>
<text x="510.9" y="32.4" font-size="21" text-anchor="start" >11 km/h</text>
<text x="512.4" y="293.6" font-size="19" text-anchor="start" >t<tspan dy="-9.5" font-size="17">*</tspan><tspan dy="9.5">=3.308</tspan></text>
<rect x="1252.1" y="12.9" width="62.2" height="231.6" fill="#f0edee"/>
<path d="M937,242 938.2,241.3 939.8,239.7 942,236.8 943.8,233.9 945.2,230.8 947,226.5 950,217.3 952.2,206.2 961.2,152.2 966.8,122.3 970.2,106.5 972.2,98.8 973.8,95.1 976.2,91.4 978,89.5 979,88.9 979.8,88.7 982.8,89.2 985.8,90.7 987.8,92.3 989.5,94.2 996,104.4 1000.8,110.8 1003.2,113.7 1005,115 1006.8,115.6 1009,115.6 1011.2,114.9 1014.2,113.2 1017.8,110.6 1020.5,107.9 1023.8,104.2 1032.2,92.9 1042.2,77.4 1046,72 1055.2,59.6 1058.2,56.2 1061,53.4 1065.2,50 1069.2,47.1 1072.8,45 1075.8,43.5 1078.2,42.7 1086.8,40.6 1091,39.9 1094.8,39.7 1101.8,40.2 1110,41.6 1114.5,42.9 1119.5,45.1 1128.2,49.8 1134,53.5 1144.8,61.7 1152.5,68.4 1160.2,76 1168,85.7 1171,89.1 1186,103.6 1194,112.4 1210.2,132 1232,160.1 1240.2,170.4 1252.5,184.6 1265.8,199.2 1286.8,221 1294.5,228.5 1298.5,231.7 1305,236.4 1309.2,238.9 1312.9,240.5 1312.9,243.6 1305.8,241.7 1294.2,238 1287,235.2 1280.5,232.3 1276.8,230.2 1273,227.6 1268.8,224.1 1264,219.7 1260,215.8 1256.2,211.6 1244,196.2 1227.2,176.3 1221.5,168.7 1207.8,149.3 1201.5,141.3 1195.2,133.7 1186.2,123.6 1172.2,110 1169.8,107.2 1167.5,104.1 1161.8,98.9 1157,95.3 1139.2,82.4 1130.2,76.9 1124.5,73.8 1119.5,71.9 1111,69.8 1104,68.6 1097.5,68.2 1093.2,68.4 1088.5,69.2 1081.8,70.8 1076.2,72.5 1073,74 1069.5,76.2 1062.2,81.4 1059.5,83.7 1055.8,87.2 1051.2,92 1043.8,100.4 1038.8,106.4 1033.8,113.1 1029.5,119.4 1027.8,122.8 1024,131.2 1022,134.7 1021,135.9 1018.2,138.4 1014.2,141.2 1011.8,142.4 1009.5,142.9 1006.8,143 1004.2,142.6 1002.5,142 1001,141.1 994.8,136.1 990.2,132.8 987.8,131.3 986.2,130.7 985.2,130.7 984.2,131.1 983,132.2 980.5,135.7 977.8,140.3 976.8,142.3 974.5,148.3 970.8,160 968.2,168.8 965.5,179.7 960.5,203.6 957,218.6 955.2,225.2 954,228.8 952.5,231.5 950,235.4 948,237.9 946,240 944,241.5 940.5,243.4 938.5,244.3 937,244.5Z" fill="rgba(241,205,165,0.3)" stroke="none"/>
<path d="M937,240.5 938,239.7 939,238.6 941.2,235 943.8,229.6 946.2,223.1 949,213.3 954.5,190.7 960,166.8 963.8,149.6 965.5,142.7 968.2,134 970.5,128.3 973.8,122.6 976.5,118.6 977.8,117.3 979,116.4 983.8,114.6 985.5,114.2 987,114.1 989,114.5 992.2,115.6 997.5,117.8 1003,120.6 1005.2,121.4 1006.5,121.6 1007.8,121.5 1009.2,121.1 1010.8,120.3 1014.8,117.3 1017.8,114.6 1019.8,112.5 1022.5,109.1 1029.2,100.1 1038.8,88.6 1055.2,68.9 1058.2,65.6 1060.8,63.3 1064.2,60.6 1068.2,57.8 1071.8,55.8 1075,54.3 1078,53.2 1084.8,51.5 1088.2,50.9 1091.2,50.7 1095.8,50.9 1100.8,51.4 1106.2,52.2 1112.2,53.4 1119.5,55.8 1131.5,60.8 1139,64.6 1146,68.7 1159,78 1168.2,84.2 1174.8,89.3 1181.2,95.2 1189.8,103.4 1195.8,109.7 1202,116.7 1210,126.3 1225.2,146.2 1242,166.3 1250.8,177.3 1260.2,188.4 1274.2,204 1288.8,219.3 1296,226.5 1305.2,234.1 1309.2,237 1312.9,239.3 1312.9,242.5 1308.8,241.2 1304,239 1297,235.3 1292,232.2 1285.8,227.6 1277.5,221 1272,216.2 1265.8,210.2 1260.2,204.6 1255.8,199.7 1241.8,183.1 1224.5,161.4 1209.2,141.3 1198.5,128.5 1190.8,120 1182.5,111.7 1174.5,104.1 1163,93.7 1159.5,91.2 1154.2,88.5 1134.2,80 1130,78.3 1124.2,76.7 1117.2,75.2 1111.2,74.4 1106,74.1 1102.5,74.3 1098.8,74.9 1094,76 1091.2,77 1088.2,78.5 1085,80.4 1077.2,85.5 1073.2,88.4 1066.2,94.1 1058.8,100.9 1029.8,130.2 1022.8,137.5 1017,142.1 1013,144.7 1011,145.6 1009,146.1 1007.5,146.1 1006,145.6 1003,143.9 997.5,139.6 993.8,137.1 991.2,135.6 989.2,134.8 988.2,134.7 987.2,135 986,135.8 984.8,136.9 981.8,140.3 980.5,142.5 978.8,146.6 975.2,156.4 972.8,164.4 969.8,175 964.8,195.4 961.8,205.8 957.2,219.3 950.8,235.9 949.2,239 948,241.1 946.2,243.1 944.5,244.5 942.8,245.4 940.8,245.8 939,245.7 937,245Z" fill="rgba(158,178,238,0.3)" stroke="none"/>
<clipPath id="cb2"><path d="M937,240.5 938,239.7 939,238.6 941.2,235 943.8,229.6 946.2,223.1 949,213.3 954.5,190.7 960,166.8 963.8,149.6 965.5,142.7 968.2,134 970.5,128.3 973.8,122.6 976.5,118.6 977.8,117.3 979,116.4 983.8,114.6 985.5,114.2 987,114.1 989,114.5 992.2,115.6 997.5,117.8 1003,120.6 1005.2,121.4 1006.5,121.6 1007.8,121.5 1009.2,121.1 1010.8,120.3 1014.8,117.3 1017.8,114.6 1019.8,112.5 1022.5,109.1 1029.2,100.1 1038.8,88.6 1055.2,68.9 1058.2,65.6 1060.8,63.3 1064.2,60.6 1068.2,57.8 1071.8,55.8 1075,54.3 1078,53.2 1084.8,51.5 1088.2,50.9 1091.2,50.7 1095.8,50.9 1100.8,51.4 1106.2,52.2 1112.2,53.4 1119.5,55.8 1131.5,60.8 1139,64.6 1146,68.7 1159,78 1168.2,84.2 1174.8,89.3 1181.2,95.2 1189.8,103.4 1195.8,109.7 1202,116.7 1210,126.3 1225.2,146.2 1242,166.3 1250.8,177.3 1260.2,188.4 1274.2,204 1288.8,219.3 1296,226.5 1305.2,234.1 1309.2,237 1312.9,239.3 1312.9,242.5 1308.8,241.2 1304,239 1297,235.3 1292,232.2 1285.8,227.6 1277.5,221 1272,216.2 1265.8,210.2 1260.2,204.6 1255.8,199.7 1241.8,183.1 1224.5,161.4 1209.2,141.3 1198.5,128.5 1190.8,120 1182.5,111.7 1174.5,104.1 1163,93.7 1159.5,91.2 1154.2,88.5 1134.2,80 1130,78.3 1124.2,76.7 1117.2,75.2 1111.2,74.4 1106,74.1 1102.5,74.3 1098.8,74.9 1094,76 1091.2,77 1088.2,78.5 1085,80.4 1077.2,85.5 1073.2,88.4 1066.2,94.1 1058.8,100.9 1029.8,130.2 1022.8,137.5 1017,142.1 1013,144.7 1011,145.6 1009,146.1 1007.5,146.1 1006,145.6 1003,143.9 997.5,139.6 993.8,137.1 991.2,135.6 989.2,134.8 988.2,134.7 987.2,135 986,135.8 984.8,136.9 981.8,140.3 980.5,142.5 978.8,146.6 975.2,156.4 972.8,164.4 969.8,175 964.8,195.4 961.8,205.8 957.2,219.3 950.8,235.9 949.2,239 948,241.1 946.2,243.1 944.5,244.5 942.8,245.4 940.8,245.8 939,245.7 937,245Z"/></clipPath>
<path d="M937,242 938.2,241.3 939.8,239.7 942,236.8 943.8,233.9 945.2,230.8 947,226.5 950,217.3 952.2,206.2 961.2,152.2 966.8,122.3 970.2,106.5 972.2,98.8 973.8,95.1 976.2,91.4 978,89.5 979,88.9 979.8,88.7 982.8,89.2 985.8,90.7 987.8,92.3 989.5,94.2 996,104.4 1000.8,110.8 1003.2,113.7 1005,115 1006.8,115.6 1009,115.6 1011.2,114.9 1014.2,113.2 1017.8,110.6 1020.5,107.9 1023.8,104.2 1032.2,92.9 1042.2,77.4 1046,72 1055.2,59.6 1058.2,56.2 1061,53.4 1065.2,50 1069.2,47.1 1072.8,45 1075.8,43.5 1078.2,42.7 1086.8,40.6 1091,39.9 1094.8,39.7 1101.8,40.2 1110,41.6 1114.5,42.9 1119.5,45.1 1128.2,49.8 1134,53.5 1144.8,61.7 1152.5,68.4 1160.2,76 1168,85.7 1171,89.1 1186,103.6 1194,112.4 1210.2,132 1232,160.1 1240.2,170.4 1252.5,184.6 1265.8,199.2 1286.8,221 1294.5,228.5 1298.5,231.7 1305,236.4 1309.2,238.9 1312.9,240.5 1312.9,243.6 1305.8,241.7 1294.2,238 1287,235.2 1280.5,232.3 1276.8,230.2 1273,227.6 1268.8,224.1 1264,219.7 1260,215.8 1256.2,211.6 1244,196.2 1227.2,176.3 1221.5,168.7 1207.8,149.3 1201.5,141.3 1195.2,133.7 1186.2,123.6 1172.2,110 1169.8,107.2 1167.5,104.1 1161.8,98.9 1157,95.3 1139.2,82.4 1130.2,76.9 1124.5,73.8 1119.5,71.9 1111,69.8 1104,68.6 1097.5,68.2 1093.2,68.4 1088.5,69.2 1081.8,70.8 1076.2,72.5 1073,74 1069.5,76.2 1062.2,81.4 1059.5,83.7 1055.8,87.2 1051.2,92 1043.8,100.4 1038.8,106.4 1033.8,113.1 1029.5,119.4 1027.8,122.8 1024,131.2 1022,134.7 1021,135.9 1018.2,138.4 1014.2,141.2 1011.8,142.4 1009.5,142.9 1006.8,143 1004.2,142.6 1002.5,142 1001,141.1 994.8,136.1 990.2,132.8 987.8,131.3 986.2,130.7 985.2,130.7 984.2,131.1 983,132.2 980.5,135.7 977.8,140.3 976.8,142.3 974.5,148.3 970.8,160 968.2,168.8 965.5,179.7 960.5,203.6 957,218.6 955.2,225.2 954,228.8 952.5,231.5 950,235.4 948,237.9 946,240 944,241.5 940.5,243.4 938.5,244.3 937,244.5Z" clip-path="url(#cb2)" fill="rgba(255,230,235,0.47)" stroke="none"/>
<path d="M937,242 938.2,241.3 939.8,239.7 942,236.8 943.8,233.9 945.2,230.8 947,226.5 950,217.3 952.2,206.2 961.2,152.2 966.8,122.3 970.2,106.5 972.2,98.8 973.8,95.1 976.2,91.4 978,89.5 979,88.9 979.8,88.7 982.8,89.2 985.8,90.7 987.8,92.3 989.5,94.2 996,104.4 1000.8,110.8 1003.2,113.7 1005,115 1006.8,115.6 1009,115.6 1011.2,114.9 1014.2,113.2 1017.8,110.6 1020.5,107.9 1023.8,104.2 1032.2,92.9 1042.2,77.4 1046,72 1055.2,59.6 1058.2,56.2 1061,53.4 1065.2,50 1069.2,47.1 1072.8,45 1075.8,43.5 1078.2,42.7 1086.8,40.6 1091,39.9 1094.8,39.7 1101.8,40.2 1110,41.6 1114.5,42.9 1119.5,45.1 1128.2,49.8 1134,53.5 1144.8,61.7 1152.5,68.4 1160.2,76 1168,85.7 1171,89.1 1186,103.6 1194,112.4 1210.2,132 1232,160.1 1240.2,170.4 1252.5,184.6 1265.8,199.2 1286.8,221 1294.5,228.5 1298.5,231.7 1305,236.4 1309.2,238.9 1312.9,240.5" fill="none" stroke="#f6a04a" stroke-width="1.5" stroke-dasharray="3.4 2.6"/>
<path d="M937,244.5 938.5,244.3 940.5,243.4 944,241.5 946,240 948,237.9 950,235.4 952.5,231.5 954,228.8 955.2,225.2 957,218.6 960.5,203.6 965.5,179.7 968.2,168.8 970.8,160 974.5,148.3 976.8,142.3 977.8,140.3 980.5,135.7 983,132.2 984.2,131.1 985.2,130.7 986.2,130.7 987.8,131.3 990.2,132.8 994.8,136.1 1001,141.1 1002.5,142 1004.2,142.6 1006.8,143 1009.5,142.9 1011.8,142.4 1014.2,141.2 1018.2,138.4 1021,135.9 1022,134.7 1024,131.2 1027.8,122.8 1029.5,119.4 1033.8,113.1 1038.8,106.4 1043.8,100.4 1051.2,92 1055.8,87.2 1059.5,83.7 1062.2,81.4 1069.5,76.2 1073,74 1076.2,72.5 1081.8,70.8 1088.5,69.2 1093.2,68.4 1097.5,68.2 1104,68.6 1111,69.8 1119.5,71.9 1124.5,73.8 1130.2,76.9 1139.2,82.4 1157,95.3 1161.8,98.9 1167.5,104.1 1169.8,107.2 1172.2,110 1186.2,123.6 1195.2,133.7 1201.5,141.3 1207.8,149.3 1221.5,168.7 1227.2,176.3 1244,196.2 1256.2,211.6 1260,215.8 1264,219.7 1268.8,224.1 1273,227.6 1276.8,230.2 1280.5,232.3 1287,235.2 1294.2,238 1305.8,241.7 1312.9,243.6" fill="none" stroke="#f6a04a" stroke-width="1.5" stroke-dasharray="3.4 2.6"/>
<path d="M937,240.5 938,239.7 939,238.6 941.2,235 943.8,229.6 946.2,223.1 949,213.3 954.5,190.7 960,166.8 963.8,149.6 965.5,142.7 968.2,134 970.5,128.3 973.8,122.6 976.5,118.6 977.8,117.3 979,116.4 983.8,114.6 985.5,114.2 987,114.1 989,114.5 992.2,115.6 997.5,117.8 1003,120.6 1005.2,121.4 1006.5,121.6 1007.8,121.5 1009.2,121.1 1010.8,120.3 1014.8,117.3 1017.8,114.6 1019.8,112.5 1022.5,109.1 1029.2,100.1 1038.8,88.6 1055.2,68.9 1058.2,65.6 1060.8,63.3 1064.2,60.6 1068.2,57.8 1071.8,55.8 1075,54.3 1078,53.2 1084.8,51.5 1088.2,50.9 1091.2,50.7 1095.8,50.9 1100.8,51.4 1106.2,52.2 1112.2,53.4 1119.5,55.8 1131.5,60.8 1139,64.6 1146,68.7 1159,78 1168.2,84.2 1174.8,89.3 1181.2,95.2 1189.8,103.4 1195.8,109.7 1202,116.7 1210,126.3 1225.2,146.2 1242,166.3 1250.8,177.3 1260.2,188.4 1274.2,204 1288.8,219.3 1296,226.5 1305.2,234.1 1309.2,237 1312.9,239.3" fill="none" stroke="#4a40ea" stroke-width="1.5" stroke-dasharray="3.4 2.6"/>
<path d="M937,245 939,245.7 940.8,245.8 942.8,245.4 944.5,244.5 946.2,243.1 948,241.1 949.2,239 950.8,235.9 957.2,219.3 961.8,205.8 964.8,195.4 969.8,175 972.8,164.4 975.2,156.4 978.8,146.6 980.5,142.5 981.8,140.3 984.8,136.9 986,135.8 987.2,135 988.2,134.7 989.2,134.8 991.2,135.6 993.8,137.1 997.5,139.6 1003,143.9 1006,145.6 1007.5,146.1 1009,146.1 1011,145.6 1013,144.7 1017,142.1 1022.8,137.5 1029.8,130.2 1058.8,100.9 1066.2,94.1 1073.2,88.4 1077.2,85.5 1085,80.4 1088.2,78.5 1091.2,77 1094,76 1098.8,74.9 1102.5,74.3 1106,74.1 1111.2,74.4 1117.2,75.2 1124.2,76.7 1130,78.3 1134.2,80 1154.2,88.5 1159.5,91.2 1163,93.7 1174.5,104.1 1182.5,111.7 1190.8,120 1198.5,128.5 1209.2,141.3 1224.5,161.4 1241.8,183.1 1255.8,199.7 1260.2,204.6 1265.8,210.2 1272,216.2 1277.5,221 1285.8,227.6 1292,232.2 1297,235.3 1304,239 1308.8,241.2 1312.9,242.5" fill="none" stroke="#4a40ea" stroke-width="1.5" stroke-dasharray="3.4 2.6"/>
<path d="M937,242.4 938.5,242.2 940.2,241.3 942,239.8 944.2,237.4 945.8,235.4 946.8,233.7 949.5,227.3 953.8,214.6 955.8,207.4 960,189.3 965,165.4 969,150.2 971,144.2 973.2,139.1 976,133.8 978.5,130.3 981.8,127.4 983.5,126.1 985,125.4 986.5,125.2 989.8,125.8 993.5,127.2 996,128.5 1001.5,132.2 1005.5,133.7 1007.8,134.1 1009.8,134.1 1011.5,133.7 1013.8,132.7 1018,130 1021.2,126.7 1025.5,121.1 1029.2,114.8 1031.8,111.3 1037,104.6 1042.2,98.5 1046,94.5 1051.8,88.9 1056.2,84.7 1060.2,81.4 1071,73.5 1074.5,71.3 1077.8,69.6 1086.2,66.2 1092,64.3 1097.2,63.1 1102,62.8 1105.5,62.9 1109.5,63.4 1118.5,65.2 1124.5,67 1131.5,70 1136,72.2 1139.5,74.1 1150.5,81 1166.5,90.5 1170,92.8 1174.5,96.4 1180.8,102 1189.5,110.5 1195.2,116.4 1201,122.8 1206.2,129.1 1209.5,133.2 1221,149.7 1225.2,155.4 1230.5,161.9 1242.8,176.4 1249.2,184.6 1252.8,188.5 1262.5,198.2 1278,215.5 1289,226.4 1292.8,229.7 1296,232.3 1301.2,235.7 1305.8,238.4 1309.5,240.1 1312.9,241.2" fill="none" stroke="#3a33f0" stroke-width="2.6" stroke-linejoin="round"/>
<path d="M937,243.4 938.8,242.9 940.5,241.7 942.5,239.6 945.2,236.1 946.2,234.5 947.2,232.4 949.2,226.9 951.8,218.5 953.2,212.2 963,163.7 967,145 969,136.6 972,126.7 974.2,120.7 975.8,117.8 979.5,112.5 981,111 982.5,110.2 984,110.4 985.8,111 988,112.4 990.8,114.7 997.8,122.7 1001.8,126.8 1003.5,128.2 1005.2,129.2 1006.8,129.4 1008.5,129.1 1010.5,128.3 1015,125.5 1017.2,123.9 1020.2,121.1 1023.2,117.7 1026,114.2 1029.8,107.7 1034,101.3 1042.5,89.4 1054,75.2 1057.5,71.3 1060.8,68.2 1065.2,64.6 1069.5,61.6 1073,59.5 1076,58 1078.5,57.2 1086.8,55.2 1091,54.5 1094.8,54.3 1098.2,54.4 1102.2,54.8 1111.2,56.5 1115.8,57.9 1121.2,60.5 1128.5,64.5 1133.8,68 1149.8,80.1 1158.5,87.2 1163.2,91.6 1183,111.1 1189,117.4 1194.8,123.9 1201,131.5 1208,140.4 1221.2,159.1 1226,165.5 1242,184.5 1250.8,196.5 1255,201.4 1259.5,206.1 1268.2,214.6 1275.2,220.9 1284.8,228.5 1291.2,233.3 1296.5,236.6 1303,239.8 1308.2,241.8 1312.9,243" fill="none" stroke="#fb8f22" stroke-width="2.6" stroke-linejoin="round"/>
<path d="M1250.5,355.6 1250.5,354.8 1257.5,353.6 1275,350.1 1285.2,347.7 1288,346.5 1291.2,344.5 1296,341.1 1298.2,338.9 1301.2,335 1305.8,328.2 1307.8,323.7 1310.5,316.1 1311.5,310.7 1313,297.1 1313.7,282.6 1313.7,355.6Z" fill="#d9d5d7" stroke="none"/>
<path d="M937.2,11.9 V247.0 H1313.9" fill="none" stroke="#000" stroke-width="2"/>
<path d="M931.2,247.0 H937.2 M931.2,169.0 H937.2 M931.2,90.9 H937.2 M931.2,12.9 H937.2 M934.2,208.0 H937.2 M934.2,129.9 H937.2 M934.2,51.9 H937.2 M937.2,247.0 V252.5 M1031.1,247.0 V252.5 M1125.1,247.0 V252.5 M1219.0,247.0 V252.5 M1312.9,247.0 V252.5" stroke="#000" stroke-width="2" fill="none"/>
<text x="927.2" y="253.3" font-size="19" text-anchor="end" >0</text>
<text x="927.2" y="175.3" font-size="19" text-anchor="end" >1</text>
<text x="927.2" y="97.2" font-size="19" text-anchor="end" >2</text>
<text x="927.2" y="19.2" font-size="19" text-anchor="end" >3</text>
<path d="M939.1,267.1 V417.8 H1313.9" fill="none" stroke="#000" stroke-width="2"/>
<path d="M933.1,268.1 H939.1 M933.1,305.5 H939.1 M933.1,343.0 H939.1 M933.1,380.4 H939.1 M933.1,417.8 H939.1 M939.1,417.8 V423.3 M1032.5,417.8 V423.3 M1126.0,417.8 V423.3 M1219.5,417.8 V423.3 M1312.9,417.8 V423.3" stroke="#000" stroke-width="2" fill="none"/>
<text x="929.1" y="274.4" font-size="19" text-anchor="end" >15</text>
<text x="929.1" y="311.8" font-size="19" text-anchor="end" >10</text>
<text x="929.1" y="349.3" font-size="19" text-anchor="end" >5</text>
<text x="929.1" y="386.7" font-size="19" text-anchor="end" >0</text>
<text x="929.1" y="424.1" font-size="19" text-anchor="end" >-5</text>
<text x="939.1" y="442.6" font-size="19" text-anchor="middle" >0</text>
<text x="1032.5" y="442.6" font-size="19" text-anchor="middle" >25</text>
<text x="1126.0" y="442.6" font-size="19" text-anchor="middle" >50</text>
<text x="1219.5" y="442.6" font-size="19" text-anchor="middle" >75</text>
<text x="1312.9" y="442.6" font-size="19" text-anchor="middle" >100</text>
<path d="M940.1,355.6 H1312.9" stroke="#8a8a8a" stroke-width="1.6" stroke-dasharray="7 7.4" fill="none"/>
<path d="M940.1,405.1 H1312.9" stroke="#8a8a8a" stroke-width="1.6" stroke-dasharray="7 7.4" fill="none"/>
<path d="M939.5,356.6 941.2,357.1 943,358.1 945,359.7 946.8,361.6 949,365 954.8,375 961.8,385.5 966,390.8 970.5,395.1 979.2,402.2 981.5,403.6 983.2,404 984.2,403.8 985.5,402.8 990,396.3 994.8,391.9 997.8,389.6 999,389 1000.2,388.7 1001.2,388.7 1003,389.1 1012.8,392.7 1016.2,393.5 1018.2,393.6 1020.2,393.3 1029.2,390.6 1031.5,390.2 1033.5,390.2 1038.8,391 1058.5,395.9 1062,396.5 1066,396.8 1076.2,397.1 1089.5,396.7 1099.8,396 1109,395 1114.2,393.7 1122.5,391.2 1126,389.9 1129.8,388.2 1135.2,385.2 1146,377.8 1161.2,368.6 1165.8,366.2 1173.2,362.6 1177.2,361 1180.8,359.8 1191,357.7 1198.2,356.7 1223,356.4 1239.2,356 1244,355.7 1250.5,354.8" fill="none" stroke="#000" stroke-width="2.1" stroke-linejoin="round"/>
<path d="M1250.5,354.8 1257.5,353.6 1275,350.1 1285.2,347.7 1288,346.5 1291.2,344.5 1296,341.1 1298.2,338.9 1301.2,335 1305.8,328.2 1307.8,323.7 1310.5,316.1 1311.5,310.7 1313,297.1 1313.7,282.6" fill="none" stroke="#c8000a" stroke-width="1.9" stroke-linejoin="round"/>
<path d="M1250.6,12.9 V417.8" stroke="#c4000b" stroke-width="2.6" stroke-dasharray="8.6 7.5" fill="none"/>
<path d="M1314.3,12.9 V417.8" stroke="#c4000b" stroke-width="2.6" stroke-dasharray="8.6 7.5" fill="none"/>
<text x="953.5" y="34.6" font-size="21" text-anchor="start" >12 km/h</text>
<text x="953.4" y="295.2" font-size="19" text-anchor="start" >t<tspan dy="-9.5" font-size="17">*</tspan><tspan dy="9.5">=3.309</tspan></text>
<rect x="1505.3" y="12.9" width="80.3" height="231.2" fill="#f0edee"/>
<rect x="1701.9" y="12.9" width="53.7" height="231.2" fill="#f0edee"/>
<path d="M1378.5,242 1379,242.2 1379.8,242.1 1381,241.3 1382.5,239.4 1383.8,237 1386.5,229.6 1390,217.1 1393,204.9 1395,194.9 1407.5,121.6 1410,108.5 1412.5,98.8 1414.8,91.7 1416.5,87.5 1419.5,82.3 1420.2,81.6 1420.8,81.4 1422.5,82.4 1424.2,84.1 1429.5,90 1440,99.3 1444.5,102.6 1447.2,104.1 1450,105 1452,105.1 1454.2,104.5 1456.8,103.1 1459.8,100.8 1466.5,94.6 1470.2,90.7 1478.8,80.2 1498.2,53.6 1502.2,49.1 1506.8,44.9 1514,39.7 1516.2,38.4 1518.5,37.5 1523.5,35.9 1534.5,32.9 1539,32.1 1542.2,31.8 1546.8,32.2 1552,33.5 1559.5,36.3 1563.5,38.4 1566.5,40.6 1570,43.5 1580.8,53.4 1591.5,62.5 1596.8,67.4 1601.2,72.3 1608.2,82.3 1611.2,86.1 1615.5,90.9 1626.5,102.4 1633,110.3 1640,119.9 1651.5,136.6 1664.8,156.9 1670,164.5 1679.2,176.5 1689,187.8 1696.2,195.6 1704.2,203.7 1722,220.7 1728.2,226.3 1733.8,230.5 1742.5,236.2 1748.2,239.2 1753.2,241.1 1753.2,242.7 1747.8,241.5 1741.5,239.5 1731.5,235.4 1725.8,232.5 1719,228.3 1710.2,222.2 1704.5,217.5 1698,211.4 1691,204.4 1685.8,198.6 1679.2,190.7 1670.8,179.9 1664,170.7 1650,150.8 1637.2,132.2 1631.2,124.3 1627.5,120 1623.2,115.6 1610.8,103.7 1602.8,95.7 1599.5,92.8 1593,87.8 1586.2,83.2 1569.8,73.2 1561.8,69 1556.5,67 1551,65.6 1544.2,64.9 1537.5,64.6 1533.8,64.8 1530,65.3 1521.8,67 1517.8,68.1 1513.2,69.7 1508.5,71.6 1505.8,73.3 1502.8,75.6 1500.5,77.6 1498.5,79.8 1484.5,98.6 1475,110 1465.8,123.1 1458.2,132 1456,134.1 1454,135.4 1452.2,136 1450.8,136 1448.8,135.3 1446.8,134.2 1443,131.2 1434.5,122.9 1432.2,121.1 1430,119.8 1428.5,119.4 1426.8,119.5 1425.5,120.1 1424,121.6 1421.8,124.6 1420.2,127.2 1419,130.6 1417.5,135.8 1413.5,152.1 1403.5,199.7 1399,217.2 1396.2,225.9 1394.8,229.4 1392.5,233.1 1390,236.8 1387.5,239.8 1385.2,241.8 1382.8,243.2 1380.2,244.3 1378.5,244.5Z" fill="rgba(241,205,165,0.3)" stroke="none"/>
<path d="M1378.5,241 1379.8,240.2 1381,238.8 1382.2,237 1383.8,234.4 1387.2,226.6 1389.8,219.5 1392.2,209.8 1399.5,178 1410.5,126.8 1413.2,116.8 1415.2,110.8 1416.8,107.5 1419.8,103 1422.8,99.3 1427.5,94.5 1428.8,93.5 1429.8,93.2 1432,93.6 1434.8,94.5 1442.5,98 1447.5,100.4 1450,101.4 1451.5,101.7 1452.8,101.6 1454.2,101.3 1455.8,100.7 1459.5,98.1 1466,92.3 1468.5,89.5 1474,82.7 1476.8,79.8 1490.5,65.9 1497.8,59.5 1501,57.3 1504.5,55.6 1507,54.6 1509.5,54 1516.5,53.5 1521,53.7 1526,54.1 1531.2,54.8 1534.8,55.6 1553.2,61.1 1560.8,63.7 1568.2,66.6 1578,70.8 1585.8,74.6 1599,82.7 1609.8,88.4 1614,91.3 1618.2,94.4 1623.5,98.7 1629.5,104.1 1633.5,107.9 1637.8,112.4 1653,129.9 1667,146.9 1672.8,153.6 1728.8,215.4 1734.5,221.3 1741.5,228 1747.5,233.3 1753.2,238 1753.2,241.1 1748.2,240.1 1742.5,238.1 1732.5,233.8 1728,231.3 1721.2,226.7 1712.5,219.8 1707.8,215.6 1702.2,210.2 1686.5,193.1 1679.8,185.1 1672.5,176 1666.2,167.7 1650.8,145.7 1630.5,119.3 1622.5,106.9 1620.5,104.5 1618.2,102.5 1615.5,100.4 1612.5,98.5 1604.2,94.3 1594.5,89.8 1581.2,84.6 1576,83.1 1568.5,81.7 1562,80.9 1556,80.7 1552.8,80.9 1549,81.4 1542.5,82.7 1538.2,83.9 1534,85.5 1529.8,87.3 1526.8,89 1523.2,91.4 1516.2,96.8 1505.5,106.3 1494.8,115 1485.5,124.5 1470.2,138.3 1457.5,151.1 1452.2,156.8 1450.8,158.1 1449.2,158.8 1448.2,159 1447.5,158.8 1446.8,158.3 1445.8,157.1 1433.5,136.2 1431.2,132.7 1429.2,130.1 1427,127.9 1425,126.7 1423,126.4 1422,126.6 1421.5,127 1420.5,128.4 1419.2,131.3 1416.8,138.7 1415.2,143.8 1410.5,163.8 1404.8,190.9 1400.5,207.4 1397.2,217.8 1391.8,231.2 1389.8,235.3 1388,238.2 1386.2,240.4 1382.8,243.4 1380.5,244.7 1378.5,245Z" fill="rgba(158,178,238,0.3)" stroke="none"/>
<clipPath id="cb3"><path d="M1378.5,241 1379.8,240.2 1381,238.8 1382.2,237 1383.8,234.4 1387.2,226.6 1389.8,219.5 1392.2,209.8 1399.5,178 1410.5,126.8 1413.2,116.8 1415.2,110.8 1416.8,107.5 1419.8,103 1422.8,99.3 1427.5,94.5 1428.8,93.5 1429.8,93.2 1432,93.6 1434.8,94.5 1442.5,98 1447.5,100.4 1450,101.4 1451.5,101.7 1452.8,101.6 1454.2,101.3 1455.8,100.7 1459.5,98.1 1466,92.3 1468.5,89.5 1474,82.7 1476.8,79.8 1490.5,65.9 1497.8,59.5 1501,57.3 1504.5,55.6 1507,54.6 1509.5,54 1516.5,53.5 1521,53.7 1526,54.1 1531.2,54.8 1534.8,55.6 1553.2,61.1 1560.8,63.7 1568.2,66.6 1578,70.8 1585.8,74.6 1599,82.7 1609.8,88.4 1614,91.3 1618.2,94.4 1623.5,98.7 1629.5,104.1 1633.5,107.9 1637.8,112.4 1653,129.9 1667,146.9 1672.8,153.6 1728.8,215.4 1734.5,221.3 1741.5,228 1747.5,233.3 1753.2,238 1753.2,241.1 1748.2,240.1 1742.5,238.1 1732.5,233.8 1728,231.3 1721.2,226.7 1712.5,219.8 1707.8,215.6 1702.2,210.2 1686.5,193.1 1679.8,185.1 1672.5,176 1666.2,167.7 1650.8,145.7 1630.5,119.3 1622.5,106.9 1620.5,104.5 1618.2,102.5 1615.5,100.4 1612.5,98.5 1604.2,94.3 1594.5,89.8 1581.2,84.6 1576,83.1 1568.5,81.7 1562,80.9 1556,80.7 1552.8,80.9 1549,81.4 1542.5,82.7 1538.2,83.9 1534,85.5 1529.8,87.3 1526.8,89 1523.2,91.4 1516.2,96.8 1505.5,106.3 1494.8,115 1485.5,124.5 1470.2,138.3 1457.5,151.1 1452.2,156.8 1450.8,158.1 1449.2,158.8 1448.2,159 1447.5,158.8 1446.8,158.3 1445.8,157.1 1433.5,136.2 1431.2,132.7 1429.2,130.1 1427,127.9 1425,126.7 1423,126.4 1422,126.6 1421.5,127 1420.5,128.4 1419.2,131.3 1416.8,138.7 1415.2,143.8 1410.5,163.8 1404.8,190.9 1400.5,207.4 1397.2,217.8 1391.8,231.2 1389.8,235.3 1388,238.2 1386.2,240.4 1382.8,243.4 1380.5,244.7 1378.5,245Z"/></clipPath>
<path d="M1378.5,242 1379,242.2 1379.8,242.1 1381,241.3 1382.5,239.4 1383.8,237 1386.5,229.6 1390,217.1 1393,204.9 1395,194.9 1407.5,121.6 1410,108.5 1412.5,98.8 1414.8,91.7 1416.5,87.5 1419.5,82.3 1420.2,81.6 1420.8,81.4 1422.5,82.4 1424.2,84.1 1429.5,90 1440,99.3 1444.5,102.6 1447.2,104.1 1450,105 1452,105.1 1454.2,104.5 1456.8,103.1 1459.8,100.8 1466.5,94.6 1470.2,90.7 1478.8,80.2 1498.2,53.6 1502.2,49.1 1506.8,44.9 1514,39.7 1516.2,38.4 1518.5,37.5 1523.5,35.9 1534.5,32.9 1539,32.1 1542.2,31.8 1546.8,32.2 1552,33.5 1559.5,36.3 1563.5,38.4 1566.5,40.6 1570,43.5 1580.8,53.4 1591.5,62.5 1596.8,67.4 1601.2,72.3 1608.2,82.3 1611.2,86.1 1615.5,90.9 1626.5,102.4 1633,110.3 1640,119.9 1651.5,136.6 1664.8,156.9 1670,164.5 1679.2,176.5 1689,187.8 1696.2,195.6 1704.2,203.7 1722,220.7 1728.2,226.3 1733.8,230.5 1742.5,236.2 1748.2,239.2 1753.2,241.1 1753.2,242.7 1747.8,241.5 1741.5,239.5 1731.5,235.4 1725.8,232.5 1719,228.3 1710.2,222.2 1704.5,217.5 1698,211.4 1691,204.4 1685.8,198.6 1679.2,190.7 1670.8,179.9 1664,170.7 1650,150.8 1637.2,132.2 1631.2,124.3 1627.5,120 1623.2,115.6 1610.8,103.7 1602.8,95.7 1599.5,92.8 1593,87.8 1586.2,83.2 1569.8,73.2 1561.8,69 1556.5,67 1551,65.6 1544.2,64.9 1537.5,64.6 1533.8,64.8 1530,65.3 1521.8,67 1517.8,68.1 1513.2,69.7 1508.5,71.6 1505.8,73.3 1502.8,75.6 1500.5,77.6 1498.5,79.8 1484.5,98.6 1475,110 1465.8,123.1 1458.2,132 1456,134.1 1454,135.4 1452.2,136 1450.8,136 1448.8,135.3 1446.8,134.2 1443,131.2 1434.5,122.9 1432.2,121.1 1430,119.8 1428.5,119.4 1426.8,119.5 1425.5,120.1 1424,121.6 1421.8,124.6 1420.2,127.2 1419,130.6 1417.5,135.8 1413.5,152.1 1403.5,199.7 1399,217.2 1396.2,225.9 1394.8,229.4 1392.5,233.1 1390,236.8 1387.5,239.8 1385.2,241.8 1382.8,243.2 1380.2,244.3 1378.5,244.5Z" clip-path="url(#cb3)" fill="rgba(255,230,235,0.47)" stroke="none"/>
<path d="M1378.5,242 1379,242.2 1379.8,242.1 1381,241.3 1382.5,239.4 1383.8,237 1386.5,229.6 1390,217.1 1393,204.9 1395,194.9 1407.5,121.6 1410,108.5 1412.5,98.8 1414.8,91.7 1416.5,87.5 1419.5,82.3 1420.2,81.6 1420.8,81.4 1422.5,82.4 1424.2,84.1 1429.5,90 1440,99.3 1444.5,102.6 1447.2,104.1 1450,105 1452,105.1 1454.2,104.5 1456.8,103.1 1459.8,100.8 1466.5,94.6 1470.2,90.7 1478.8,80.2 1498.2,53.6 1502.2,49.1 1506.8,44.9 1514,39.7 1516.2,38.4 1518.5,37.5 1523.5,35.9 1534.5,32.9 1539,32.1 1542.2,31.8 1546.8,32.2 1552,33.5 1559.5,36.3 1563.5,38.4 1566.5,40.6 1570,43.5 1580.8,53.4 1591.5,62.5 1596.8,67.4 1601.2,72.3 1608.2,82.3 1611.2,86.1 1615.5,90.9 1626.5,102.4 1633,110.3 1640,119.9 1651.5,136.6 1664.8,156.9 1670,164.5 1679.2,176.5 1689,187.8 1696.2,195.6 1704.2,203.7 1722,220.7 1728.2,226.3 1733.8,230.5 1742.5,236.2 1748.2,239.2 1753.2,241.1" fill="none" stroke="#f6a04a" stroke-width="1.5" stroke-dasharray="3.4 2.6"/>
<path d="M1378.5,244.5 1380.2,244.3 1382.8,243.2 1385.2,241.8 1387.5,239.8 1390,236.8 1392.5,233.1 1394.8,229.4 1396.2,225.9 1399,217.2 1403.5,199.7 1413.5,152.1 1417.5,135.8 1419,130.6 1420.2,127.2 1421.8,124.6 1424,121.6 1425.5,120.1 1426.8,119.5 1428.5,119.4 1430,119.8 1432.2,121.1 1434.5,122.9 1443,131.2 1446.8,134.2 1448.8,135.3 1450.8,136 1452.2,136 1454,135.4 1456,134.1 1458.2,132 1465.8,123.1 1475,110 1484.5,98.6 1498.5,79.8 1500.5,77.6 1502.8,75.6 1505.8,73.3 1508.5,71.6 1513.2,69.7 1517.8,68.1 1521.8,67 1530,65.3 1533.8,64.8 1537.5,64.6 1544.2,64.9 1551,65.6 1556.5,67 1561.8,69 1569.8,73.2 1586.2,83.2 1593,87.8 1599.5,92.8 1602.8,95.7 1610.8,103.7 1623.2,115.6 1627.5,120 1631.2,124.3 1637.2,132.2 1650,150.8 1664,170.7 1670.8,179.9 1679.2,190.7 1685.8,198.6 1691,204.4 1698,211.4 1704.5,217.5 1710.2,222.2 1719,228.3 1725.8,232.5 1731.5,235.4 1741.5,239.5 1747.8,241.5 1753.2,242.7" fill="none" stroke="#f6a04a" stroke-width="1.5" stroke-dasharray="3.4 2.6"/>
<path d="M1378.5,241 1379.8,240.2 1381,238.8 1382.2,237 1383.8,234.4 1387.2,226.6 1389.8,219.5 1392.2,209.8 1399.5,178 1410.5,126.8 1413.2,116.8 1415.2,110.8 1416.8,107.5 1419.8,103 1422.8,99.3 1427.5,94.5 1428.8,93.5 1429.8,93.2 1432,93.6 1434.8,94.5 1442.5,98 1447.5,100.4 1450,101.4 1451.5,101.7 1452.8,101.6 1454.2,101.3 1455.8,100.7 1459.5,98.1 1466,92.3 1468.5,89.5 1474,82.7 1476.8,79.8 1490.5,65.9 1497.8,59.5 1501,57.3 1504.5,55.6 1507,54.6 1509.5,54 1516.5,53.5 1521,53.7 1526,54.1 1531.2,54.8 1534.8,55.6 1553.2,61.1 1560.8,63.7 1568.2,66.6 1578,70.8 1585.8,74.6 1599,82.7 1609.8,88.4 1614,91.3 1618.2,94.4 1623.5,98.7 1629.5,104.1 1633.5,107.9 1637.8,112.4 1653,129.9 1667,146.9 1672.8,153.6 1728.8,215.4 1734.5,221.3 1741.5,228 1747.5,233.3 1753.2,238" fill="none" stroke="#4a40ea" stroke-width="1.5" stroke-dasharray="3.4 2.6"/>
<path d="M1378.5,245 1380.5,244.7 1382.8,243.4 1386.2,240.4 1388,238.2 1389.8,235.3 1391.8,231.2 1397.2,217.8 1400.5,207.4 1404.8,190.9 1410.5,163.8 1415.2,143.8 1416.8,138.7 1419.2,131.3 1420.5,128.4 1421.5,127 1422,126.6 1423,126.4 1425,126.7 1427,127.9 1429.2,130.1 1431.2,132.7 1433.5,136.2 1445.8,157.1 1446.8,158.3 1447.5,158.8 1448.2,159 1449.2,158.8 1450.8,158.1 1452.2,156.8 1457.5,151.1 1470.2,138.3 1485.5,124.5 1494.8,115 1505.5,106.3 1516.2,96.8 1523.2,91.4 1526.8,89 1529.8,87.3 1534,85.5 1538.2,83.9 1542.5,82.7 1549,81.4 1552.8,80.9 1556,80.7 1562,80.9 1568.5,81.7 1576,83.1 1581.2,84.6 1594.5,89.8 1604.2,94.3 1612.5,98.5 1615.5,100.4 1618.2,102.5 1620.5,104.5 1622.5,106.9 1630.5,119.3 1650.8,145.7 1666.2,167.7 1672.5,176 1679.8,185.1 1686.5,193.1 1702.2,210.2 1707.8,215.6 1712.5,219.8 1721.2,226.7 1728,231.3 1732.5,233.8 1742.5,238.1 1748.2,240.1 1753.2,241.1" fill="none" stroke="#4a40ea" stroke-width="1.5" stroke-dasharray="3.4 2.6"/>
<path d="M1378.5,242.4 1380.2,242 1382,240.8 1384,238.8 1386.8,235.5 1388,233.4 1389.2,230.8 1392,223.4 1394.5,215.4 1396,209.4 1405.2,164.9 1411,140.2 1412.8,134.2 1416.2,124.5 1418.2,120.1 1420,117.5 1423,114.6 1425.2,113 1427.2,112.3 1428.5,112.3 1429.5,112.5 1431,113.5 1432.8,115 1439.8,122.6 1446.2,128.6 1447.8,129.6 1449.2,130.2 1450.5,130.3 1452,129.9 1454.8,128.2 1459.2,124.3 1462,121.4 1468.8,113.5 1471.8,110.2 1476.8,105.7 1491.8,90.6 1498.5,84.4 1502.5,81.3 1506.5,78.9 1510.8,76.8 1518.2,73.8 1522.8,72.2 1526.2,71.3 1532.5,70.2 1536.8,69.7 1540.5,69.5 1545,69.6 1550,70.1 1556,71 1560.8,72 1570.2,74.9 1585.2,80.6 1592.8,84.1 1601.8,89.2 1614,97.6 1622,103.6 1628.8,109.5 1633.8,114.8 1638,120.2 1650.5,137.3 1661.2,150.4 1671.8,162.7 1707.2,201.9 1723,218.7 1727,222.7 1730.5,225.9 1739.2,232.6 1743.2,235.3 1746.8,237.3 1750,238.9 1753.2,240.1" fill="none" stroke="#3a33f0" stroke-width="2.6" stroke-linejoin="round"/>
<path d="M1378.5,243.4 1380,243.1 1381.8,241.9 1383.8,239.6 1386.2,236.1 1387.2,234.3 1388.2,231.9 1390.5,224.9 1392.8,216.4 1394.2,209.6 1403.8,159.1 1409.2,131.7 1410.8,125.8 1413.5,116.7 1415.2,112.2 1416.8,109.5 1420.2,105.7 1422.8,103.8 1424.8,103 1427.5,103.3 1429.5,104.1 1431.2,105.3 1433.5,107.5 1440,114.6 1443.8,117.6 1446.2,119.3 1448.2,120.2 1450.2,120.5 1452.5,120.2 1455,119.2 1459,116.8 1463.2,113.7 1466.8,110.3 1472,104.4 1475.5,99.9 1484.2,89.3 1497.8,70.2 1502.2,64.2 1504.5,61.6 1506.8,59.6 1509.8,57.2 1512.5,55.5 1516.8,53.4 1520.5,52 1526.5,50.4 1531.5,49.3 1535.2,48.8 1539.2,48.6 1545.2,48.9 1550.2,50 1557.8,52.4 1564.8,55.6 1573,60.3 1585.2,68.1 1591.5,72.9 1599.2,79.7 1604,84.3 1620,101.2 1625.2,107 1630,112.6 1636.8,121.5 1662.2,158 1672,171.3 1679,180 1687.2,189.7 1709.8,215 1715,220.1 1721.2,225.7 1726,229.5 1730.2,232.4 1737.2,236.2 1743.5,239.2 1748.5,241 1753.2,242.1" fill="none" stroke="#fb8f22" stroke-width="2.6" stroke-linejoin="round"/>
<path d="M1503.8,406.1 1503.8,406.1 1508.5,408.1 1513.8,409.8 1527.5,413.3 1533.2,414.4 1540.5,415.5 1545.5,416 1550,416.2 1554,416 1558.2,415.4 1571.5,412.2 1578,410 1585.5,406.6 1585.5,406.1Z" fill="#d9d5d7" stroke="none"/>
<path d="M1700.2,356.6 1700.2,356.6 1708.8,354.3 1716,352 1722.5,349.6 1727.5,347.5 1731.5,344.6 1738,338.7 1740,336.5 1742,333.7 1748.5,323 1749.8,319.7 1751,314.9 1752.5,306.6 1753.5,289.3 1754.6,275.8 1754.6,356.6Z" fill="#d9d5d7" stroke="none"/>
<path d="M1378.6,11.9 V246.6 H1755.6" fill="none" stroke="#000" stroke-width="2"/>
<path d="M1372.6,246.6 H1378.6 M1372.6,168.7 H1378.6 M1372.6,90.8 H1378.6 M1372.6,12.9 H1378.6 M1375.6,207.7 H1378.6 M1375.6,129.8 H1378.6 M1375.6,51.8 H1378.6 M1378.6,246.6 V252.1 M1472.6,246.6 V252.1 M1566.6,246.6 V252.1 M1660.6,246.6 V252.1 M1754.6,246.6 V252.1" stroke="#000" stroke-width="2" fill="none"/>
<text x="1368.6" y="252.9" font-size="19" text-anchor="end" >0</text>
<text x="1368.6" y="175.0" font-size="19" text-anchor="end" >1</text>
<text x="1368.6" y="97.1" font-size="19" text-anchor="end" >2</text>
<text x="1368.6" y="19.2" font-size="19" text-anchor="end" >3</text>
<path d="M1380.1,268.1 V418.8 H1755.6" fill="none" stroke="#000" stroke-width="2"/>
<path d="M1374.1,269.1 H1380.1 M1374.1,306.5 H1380.1 M1374.1,344.0 H1380.1 M1374.1,381.4 H1380.1 M1374.1,418.8 H1380.1 M1380.1,418.8 V424.3 M1473.7,418.8 V424.3 M1567.3,418.8 V424.3 M1661.0,418.8 V424.3 M1754.6,418.8 V424.3" stroke="#000" stroke-width="2" fill="none"/>
<text x="1370.1" y="275.4" font-size="19" text-anchor="end" >15</text>
<text x="1370.1" y="312.8" font-size="19" text-anchor="end" >10</text>
<text x="1370.1" y="350.3" font-size="19" text-anchor="end" >5</text>
<text x="1370.1" y="387.7" font-size="19" text-anchor="end" >0</text>
<text x="1370.1" y="425.1" font-size="19" text-anchor="end" >-5</text>
<text x="1380.1" y="443.6" font-size="19" text-anchor="middle" >0</text>
<text x="1473.7" y="443.6" font-size="19" text-anchor="middle" >25</text>
<text x="1567.3" y="443.6" font-size="19" text-anchor="middle" >50</text>
<text x="1661.0" y="443.6" font-size="19" text-anchor="middle" >75</text>
<text x="1754.6" y="443.6" font-size="19" text-anchor="middle" >100</text>
<path d="M1381.1,356.6 H1754.6" stroke="#8a8a8a" stroke-width="1.6" stroke-dasharray="7 7.4" fill="none"/>
<path d="M1381.1,406.1 H1754.6" stroke="#8a8a8a" stroke-width="1.6" stroke-dasharray="7 7.4" fill="none"/>
<path d="M1381,356.6 1383.5,357.2 1386,358.3 1388.8,360.1 1391.8,362.5 1394.5,365.7 1400.8,374.4 1408.8,383.7 1411.5,386.5 1418.2,392.7 1420.5,394.4 1422.5,395.4 1424.8,395.9 1426.8,395.6 1429,394.5 1434,391.5 1435.5,390.8 1436.8,390.5 1440.2,390.7 1449,392.4 1453,392.7 1457.5,392.2 1468.2,390.1 1471,389.8 1473.2,389.9 1475.5,390.4 1478.2,391.3 1485.8,394.7 1500,404 1503.8,406.1" fill="none" stroke="#000" stroke-width="2.1" stroke-linejoin="round"/>
<path d="M1503.8,406.1 1508.5,408.1 1513.8,409.8 1527.5,413.3 1533.2,414.4 1540.5,415.5 1545.5,416 1550,416.2 1554,416 1558.2,415.4 1571.5,412.2 1578,410 1585.5,406.6" fill="none" stroke="#c8000a" stroke-width="1.9" stroke-linejoin="round"/>
<path d="M1585.5,406.6 1591.2,403.2 1612.2,388.7 1617.8,385.2 1630,378.5 1641,373.3 1649.2,370 1657,367.6 1682,361.5 1700.2,356.6" fill="none" stroke="#000" stroke-width="2.1" stroke-linejoin="round"/>
<path d="M1700.2,356.6 1709.5,354 1716.2,351.9 1722.5,349.6 1727.5,347.5 1731.5,344.6 1738,338.7 1740,336.5 1742,333.7 1748.5,323 1749.8,319.7 1751,314.9 1752.5,306.6 1753.5,289.3 1754.6,275.8" fill="none" stroke="#c8000a" stroke-width="1.9" stroke-linejoin="round"/>
<path d="M1503.8,12.9 V418.8" stroke="#c4000b" stroke-width="2.6" stroke-dasharray="8.6 7.5" fill="none"/>
<path d="M1585.6,12.9 V418.8" stroke="#c4000b" stroke-width="2.6" stroke-dasharray="8.6 7.5" fill="none"/>
<path d="M1700.4,12.9 V418.8" stroke="#c4000b" stroke-width="2.6" stroke-dasharray="8.6 7.5" fill="none"/>
<path d="M1755.6,12.9 V418.8" stroke="#c4000b" stroke-width="2.6" stroke-dasharray="8.6 7.5" fill="none"/>
<text x="1392.9" y="32.1" font-size="21" text-anchor="start" >13 km/h</text>
<text x="1394.4" y="296.2" font-size="19" text-anchor="start" >t<tspan dy="-9.5" font-size="17">*</tspan><tspan dy="9.5">=3.309</tspan></text>
<rect x="378.7" y="488.9" width="52.4" height="231.5" fill="#f0edee"/>
<path d="M55.5,717 56.5,716 57.8,714 60.2,708.2 63,699.5 66,688 67.2,681.7 68.8,672.6 77.8,612.5 82.5,585.2 84.5,576.2 88,563.7 90,558.6 92.5,555 95.8,551.2 98.5,548.8 103.5,545.8 104.8,545.4 105.8,545.4 108.2,546.2 111.2,547.9 119.2,553.5 126.2,558.8 129.8,560.9 133,562 136.2,562.5 139.5,562.4 142.5,561.7 144.8,560.6 147,559.1 153.5,553.5 156.2,550.7 162.2,543.8 165,540.9 168.2,538.1 177.5,530.8 187.2,520.9 191.2,517.5 193.2,516.3 197,514.6 204.5,511.8 210.8,510.3 213.8,509.9 216.8,509.8 222,510.3 227.5,511.8 234.8,514.7 241,518.3 246.2,521.8 249.5,524.3 258.8,532 281.5,550 287.5,555.3 310.8,578.8 324.2,595 337,609.6 340.2,613.8 342.8,617.7 351.8,634.1 355,639.4 360,646.1 366.5,653.8 399.5,690.8 406.5,698.2 413,704.2 419.8,709.9 425.5,714.2 430.7,717.5 430.7,720 425.8,718.9 420,717.1 409,712.6 404.8,710.6 398.5,706.9 390.8,701.6 386.5,698.2 381.5,693.7 375.2,687.5 369.5,681.2 363,673.6 355.5,664.1 348.5,654.4 332.2,630.1 328,624.2 324,619.2 319.8,614.6 310.8,605.9 300.2,595.3 296.5,591.8 292,588.1 274.8,574.4 265.8,567.6 260,563.7 254.2,560.5 240.5,554.2 234,551.7 228.8,550.4 223.5,549.3 218.8,548.7 214.8,548.4 211.5,548.6 208.2,549.4 204.5,550.7 198.5,553.2 194.8,555.1 183,561.7 179,564.2 175.8,566.4 170.8,570.7 164.2,577.2 148.8,595.7 142.5,602.5 139,605.7 135,609 125.8,615.8 123.8,617 121.5,617.7 120.5,617.7 119.5,617.3 117.2,615.8 112.2,610.9 106.2,606.8 104,605.6 101.8,604.8 100,604.6 99.5,604.7 99,605.2 97.8,607.3 96.5,610.5 91.2,628.2 86.2,649.1 80.8,675.3 76.8,690.6 73.8,700.1 72.2,703.7 69,709.7 66.5,713.7 64.2,716.6 62.2,718.5 59.8,719.8 57.5,720.6 55.5,720.5Z" fill="rgba(241,205,165,0.3)" stroke="none"/>
<path d="M55.5,717.5 56.8,716.6 58,715.1 59.2,713.1 60.8,710.2 64.8,700.4 67.2,692.8 70.2,679.8 74.2,658.9 80,622.1 83.8,600 85.8,590.1 88.2,581.1 90.8,574.1 92.5,570.5 96.8,564.3 98.5,562.3 100,561.4 103.2,560.5 104.5,560.5 105.8,560.7 107.8,561.7 109.8,562.9 114.8,566.6 118.8,569.9 124,575.4 126.5,577.5 128,578.3 129.5,578.6 131.2,578.5 133.2,578 136,576.7 138.8,574.8 141.8,572.3 145.2,568.8 148.5,564.7 155.8,554 160.8,547.9 167,541.1 174,534.4 177,531.9 178.8,530.8 180.2,530.1 187.8,528.4 192.8,527.8 202.8,527.6 207.5,527.7 211.5,528 220.8,529.6 229.5,531.5 235.8,533.1 242.5,535.3 247.8,537.3 252.8,540 285,559.3 294.2,565.7 306.8,575.2 310.5,578.5 313.8,581.8 324,593.3 334.8,604.6 339.2,609.9 341.5,613 343.8,616.6 351.5,630.8 354.8,636.2 359.5,642.7 365.8,650.1 401.5,690.3 407,696.2 413.2,702.2 419.8,708 425.5,712.7 430.7,716.4 430.7,718.7 426,716.9 420.8,714.3 414.5,710.7 407,705.9 402.5,702.6 397.5,698.4 390.2,692.1 385.2,687.3 377.8,679.5 370.8,671.6 364.2,663.6 358.2,655.5 354,649 344.5,630.6 342.2,626.8 340.2,624.1 337,620.6 333.2,617.3 311.5,600 303.5,594 298.2,590.6 291.2,586.8 283.8,583.3 249,569.4 239.8,566 236.5,565 233.8,564.4 230.5,564.1 226.8,564 218.2,564.5 214.5,565.1 210,566.2 205.5,567.9 200,570.9 193,576.3 175.5,588.4 171.2,591.5 168,594.2 158.5,602.9 139,618.7 135.2,621.1 132,622.4 131,622.4 129.8,621.8 128.2,620.4 126.8,618.5 122.5,612.2 117.8,602.6 116.2,599.9 114,596.9 111.5,594 108.8,591.6 106.5,590.5 105.5,590.4 104.8,590.6 103,591.7 100,595.2 98.8,597.5 94,609 90.8,618.4 88.5,626.7 78.8,666.6 73.2,687.4 70.2,696.9 66.2,706.7 64.5,710.2 63,712.8 61.5,714.9 58.5,718.1 57,719.4 55.5,720Z" fill="rgba(158,178,238,0.3)" stroke="none"/>
<clipPath id="cb4"><path d="M55.5,717.5 56.8,716.6 58,715.1 59.2,713.1 60.8,710.2 64.8,700.4 67.2,692.8 70.2,679.8 74.2,658.9 80,622.1 83.8,600 85.8,590.1 88.2,581.1 90.8,574.1 92.5,570.5 96.8,564.3 98.5,562.3 100,561.4 103.2,560.5 104.5,560.5 105.8,560.7 107.8,561.7 109.8,562.9 114.8,566.6 118.8,569.9 124,575.4 126.5,577.5 128,578.3 129.5,578.6 131.2,578.5 133.2,578 136,576.7 138.8,574.8 141.8,572.3 145.2,568.8 148.5,564.7 155.8,554 160.8,547.9 167,541.1 174,534.4 177,531.9 178.8,530.8 180.2,530.1 187.8,528.4 192.8,527.8 202.8,527.6 207.5,527.7 211.5,528 220.8,529.6 229.5,531.5 235.8,533.1 242.5,535.3 247.8,537.3 252.8,540 285,559.3 294.2,565.7 306.8,575.2 310.5,578.5 313.8,581.8 324,593.3 334.8,604.6 339.2,609.9 341.5,613 343.8,616.6 351.5,630.8 354.8,636.2 359.5,642.7 365.8,650.1 401.5,690.3 407,696.2 413.2,702.2 419.8,708 425.5,712.7 430.7,716.4 430.7,718.7 426,716.9 420.8,714.3 414.5,710.7 407,705.9 402.5,702.6 397.5,698.4 390.2,692.1 385.2,687.3 377.8,679.5 370.8,671.6 364.2,663.6 358.2,655.5 354,649 344.5,630.6 342.2,626.8 340.2,624.1 337,620.6 333.2,617.3 311.5,600 303.5,594 298.2,590.6 291.2,586.8 283.8,583.3 249,569.4 239.8,566 236.5,565 233.8,564.4 230.5,564.1 226.8,564 218.2,564.5 214.5,565.1 210,566.2 205.5,567.9 200,570.9 193,576.3 175.5,588.4 171.2,591.5 168,594.2 158.5,602.9 139,618.7 135.2,621.1 132,622.4 131,622.4 129.8,621.8 128.2,620.4 126.8,618.5 122.5,612.2 117.8,602.6 116.2,599.9 114,596.9 111.5,594 108.8,591.6 106.5,590.5 105.5,590.4 104.8,590.6 103,591.7 100,595.2 98.8,597.5 94,609 90.8,618.4 88.5,626.7 78.8,666.6 73.2,687.4 70.2,696.9 66.2,706.7 64.5,710.2 63,712.8 61.5,714.9 58.5,718.1 57,719.4 55.5,720Z"/></clipPath>
<path d="M55.5,717 56.5,716 57.8,714 60.2,708.2 63,699.5 66,688 67.2,681.7 68.8,672.6 77.8,612.5 82.5,585.2 84.5,576.2 88,563.7 90,558.6 92.5,555 95.8,551.2 98.5,548.8 103.5,545.8 104.8,545.4 105.8,545.4 108.2,546.2 111.2,547.9 119.2,553.5 126.2,558.8 129.8,560.9 133,562 136.2,562.5 139.5,562.4 142.5,561.7 144.8,560.6 147,559.1 153.5,553.5 156.2,550.7 162.2,543.8 165,540.9 168.2,538.1 177.5,530.8 187.2,520.9 191.2,517.5 193.2,516.3 197,514.6 204.5,511.8 210.8,510.3 213.8,509.9 216.8,509.8 222,510.3 227.5,511.8 234.8,514.7 241,518.3 246.2,521.8 249.5,524.3 258.8,532 281.5,550 287.5,555.3 310.8,578.8 324.2,595 337,609.6 340.2,613.8 342.8,617.7 351.8,634.1 355,639.4 360,646.1 366.5,653.8 399.5,690.8 406.5,698.2 413,704.2 419.8,709.9 425.5,714.2 430.7,717.5 430.7,720 425.8,718.9 420,717.1 409,712.6 404.8,710.6 398.5,706.9 390.8,701.6 386.5,698.2 381.5,693.7 375.2,687.5 369.5,681.2 363,673.6 355.5,664.1 348.5,654.4 332.2,630.1 328,624.2 324,619.2 319.8,614.6 310.8,605.9 300.2,595.3 296.5,591.8 292,588.1 274.8,574.4 265.8,567.6 260,563.7 254.2,560.5 240.5,554.2 234,551.7 228.8,550.4 223.5,549.3 218.8,548.7 214.8,548.4 211.5,548.6 208.2,549.4 204.5,550.7 198.5,553.2 194.8,555.1 183,561.7 179,564.2 175.8,566.4 170.8,570.7 164.2,577.2 148.8,595.7 142.5,602.5 139,605.7 135,609 125.8,615.8 123.8,617 121.5,617.7 120.5,617.7 119.5,617.3 117.2,615.8 112.2,610.9 106.2,606.8 104,605.6 101.8,604.8 100,604.6 99.5,604.7 99,605.2 97.8,607.3 96.5,610.5 91.2,628.2 86.2,649.1 80.8,675.3 76.8,690.6 73.8,700.1 72.2,703.7 69,709.7 66.5,713.7 64.2,716.6 62.2,718.5 59.8,719.8 57.5,720.6 55.5,720.5Z" clip-path="url(#cb4)" fill="rgba(255,230,235,0.47)" stroke="none"/>
<path d="M55.5,717 56.5,716 57.8,714 60.2,708.2 63,699.5 66,688 67.2,681.7 68.8,672.6 77.8,612.5 82.5,585.2 84.5,576.2 88,563.7 90,558.6 92.5,555 95.8,551.2 98.5,548.8 103.5,545.8 104.8,545.4 105.8,545.4 108.2,546.2 111.2,547.9 119.2,553.5 126.2,558.8 129.8,560.9 133,562 136.2,562.5 139.5,562.4 142.5,561.7 144.8,560.6 147,559.1 153.5,553.5 156.2,550.7 162.2,543.8 165,540.9 168.2,538.1 177.5,530.8 187.2,520.9 191.2,517.5 193.2,516.3 197,514.6 204.5,511.8 210.8,510.3 213.8,509.9 216.8,509.8 222,510.3 227.5,511.8 234.8,514.7 241,518.3 246.2,521.8 249.5,524.3 258.8,532 281.5,550 287.5,555.3 310.8,578.8 324.2,595 337,609.6 340.2,613.8 342.8,617.7 351.8,634.1 355,639.4 360,646.1 366.5,653.8 399.5,690.8 406.5,698.2 413,704.2 419.8,709.9 425.5,714.2 430.7,717.5" fill="none" stroke="#f6a04a" stroke-width="1.5" stroke-dasharray="3.4 2.6"/>
<path d="M55.5,720.5 57.5,720.6 59.8,719.8 62.2,718.5 64.2,716.6 66.5,713.7 69,709.7 72.2,703.7 73.8,700.1 76.8,690.6 80.8,675.3 86.2,649.1 91.2,628.2 96.5,610.5 97.8,607.3 99,605.2 99.5,604.7 100,604.6 101.8,604.8 104,605.6 106.2,606.8 112.2,610.9 117.2,615.8 119.5,617.3 120.5,617.7 121.5,617.7 123.8,617 125.8,615.8 135,609 139,605.7 142.5,602.5 148.8,595.7 164.2,577.2 170.8,570.7 175.8,566.4 179,564.2 183,561.7 194.8,555.1 198.5,553.2 204.5,550.7 208.2,549.4 211.5,548.6 214.8,548.4 218.8,548.7 223.5,549.3 228.8,550.4 234,551.7 240.5,554.2 254.2,560.5 260,563.7 265.8,567.6 274.8,574.4 292,588.1 296.5,591.8 300.2,595.3 310.8,605.9 319.8,614.6 324,619.2 328,624.2 332.2,630.1 348.5,654.4 355.5,664.1 363,673.6 369.5,681.2 375.2,687.5 381.5,693.7 386.5,698.2 390.8,701.6 398.5,706.9 404.8,710.6 409,712.6 420,717.1 425.8,718.9 430.7,720" fill="none" stroke="#f6a04a" stroke-width="1.5" stroke-dasharray="3.4 2.6"/>
<path d="M55.5,717.5 56.8,716.6 58,715.1 59.2,713.1 60.8,710.2 64.8,700.4 67.2,692.8 70.2,679.8 74.2,658.9 80,622.1 83.8,600 85.8,590.1 88.2,581.1 90.8,574.1 92.5,570.5 96.8,564.3 98.5,562.3 100,561.4 103.2,560.5 104.5,560.5 105.8,560.7 107.8,561.7 109.8,562.9 114.8,566.6 118.8,569.9 124,575.4 126.5,577.5 128,578.3 129.5,578.6 131.2,578.5 133.2,578 136,576.7 138.8,574.8 141.8,572.3 145.2,568.8 148.5,564.7 155.8,554 160.8,547.9 167,541.1 174,534.4 177,531.9 178.8,530.8 180.2,530.1 187.8,528.4 192.8,527.8 202.8,527.6 207.5,527.7 211.5,528 220.8,529.6 229.5,531.5 235.8,533.1 242.5,535.3 247.8,537.3 252.8,540 285,559.3 294.2,565.7 306.8,575.2 310.5,578.5 313.8,581.8 324,593.3 334.8,604.6 339.2,609.9 341.5,613 343.8,616.6 351.5,630.8 354.8,636.2 359.5,642.7 365.8,650.1 401.5,690.3 407,696.2 413.2,702.2 419.8,708 425.5,712.7 430.7,716.4" fill="none" stroke="#4a40ea" stroke-width="1.5" stroke-dasharray="3.4 2.6"/>
<path d="M55.5,720 57,719.4 58.5,718.1 61.5,714.9 63,712.8 64.5,710.2 66.2,706.7 70.2,696.9 73.2,687.4 78.8,666.6 88.5,626.7 90.8,618.4 94,609 98.8,597.5 100,595.2 103,591.7 104.8,590.6 105.5,590.4 106.5,590.5 108.8,591.6 111.5,594 114,596.9 116.2,599.9 117.8,602.6 122.5,612.2 126.8,618.5 128.2,620.4 129.8,621.8 131,622.4 132,622.4 135.2,621.1 139,618.7 158.5,602.9 168,594.2 171.2,591.5 175.5,588.4 193,576.3 200,570.9 205.5,567.9 210,566.2 214.5,565.1 218.2,564.5 226.8,564 230.5,564.1 233.8,564.4 236.5,565 239.8,566 249,569.4 283.8,583.3 291.2,586.8 298.2,590.6 303.5,594 311.5,600 333.2,617.3 337,620.6 340.2,624.1 342.2,626.8 344.5,630.6 354,649 358.2,655.5 364.2,663.6 370.8,671.6 377.8,679.5 385.2,687.3 390.2,692.1 397.5,698.4 402.5,702.6 407,705.9 414.5,710.7 420.8,714.3 426,716.9 430.7,718.7" fill="none" stroke="#4a40ea" stroke-width="1.5" stroke-dasharray="3.4 2.6"/>
<path d="M55.5,718 57,716.9 58.5,715.1 61.5,710.5 63,707.9 66.2,700.3 69.8,689.9 71.2,684.2 72.8,677.3 77,655.7 82,628.6 87.2,604.9 90,594.6 91.8,589.1 94.8,582.4 95.8,580.8 97.2,579.1 99.5,577.3 102.2,576.1 104.2,575.9 105.2,576.2 106.2,576.7 108.8,578.7 112.5,583 114.2,585.6 118.8,593.3 121,596.1 124.2,598.5 127.2,600 130,600.5 132.8,600.2 135,599.4 137.5,598.1 140.2,596.2 142.5,594.3 145.8,590.4 152.8,580.5 162.8,568.1 165.5,565.2 170,561.1 173.2,558.5 176.2,556.5 184.2,552.3 187,551.2 189.5,550.6 194.8,549.6 199.5,549 213.2,547.9 222,547.5 229.8,547.8 236.2,548.6 240,549.6 246.2,551.5 252.5,553.8 261.8,558 284,569.1 290.5,573.2 298.5,579.2 304,584.1 315.5,595 321.5,601 326.8,606.7 332.8,613.6 340.2,622.8 354,640.9 362,650.6 386.2,678.5 399,692.3 406.8,699.9 415,706.8 423.5,713 427.2,715.4 430.7,717.3" fill="none" stroke="#3a33f0" stroke-width="2.6" stroke-linejoin="round"/>
<path d="M55.5,719.1 56.8,718.1 58.2,716.2 62,709.5 64.2,703.7 66.8,695.3 68.5,688.5 70,681.5 79.2,631.9 84,609.3 86,601.4 89.5,589.8 91.2,585.2 92.8,582.7 95,580.6 97.8,578.7 103,575.5 104,575.1 105,575 107,575.6 109.2,576.9 113,579.4 118,583.6 120,585 121.8,585.9 124.8,586.8 128.5,587.5 132.2,587.4 136.5,586.4 141.8,584.4 144.2,583.1 147,581.3 154.5,575.2 178.5,551.1 186,544.2 196.2,535.7 198,534.5 199.8,533.7 207.5,531.2 213.5,529.8 219,529.4 225.8,530 234.8,531.7 241,533.8 247.2,536.6 251.8,539.5 260.2,546 272,555.5 281.2,562.7 285.2,566.1 291,571.6 299.8,580.8 328.8,612.8 335.8,620.9 339.8,626.1 342.2,629.7 353.2,648.1 359,656.4 364,662.9 370,670.3 384,686.9 388.8,692.3 393,696.4 399,701.8 403.2,705.2 407.2,708 415.2,712.6 421.2,715.7 426.2,717.8 430.7,719.1" fill="none" stroke="#fb8f22" stroke-width="2.6" stroke-linejoin="round"/>
<path d="M377.1,830.3 377.1,829.7 383.8,827.2 389.1,824.9 392.3,823.1 395.8,820.7 404.6,813.5 408.6,809.7 415.6,802.3 418.3,798.4 420.3,794.9 422.3,790.7 424.1,784.1 427.3,766 429.9,744 429.9,830.3Z" fill="#d9d5d7" stroke="none"/>
<path d="M55.2,487.9 V722.9 H432.1" fill="none" stroke="#000" stroke-width="2"/>
<path d="M49.2,722.9 H55.2 M49.2,644.9 H55.2 M49.2,566.9 H55.2 M49.2,488.9 H55.2 M52.2,683.9 H55.2 M52.2,605.9 H55.2 M52.2,527.9 H55.2 M55.2,722.9 V728.4 M149.2,722.9 V728.4 M243.1,722.9 V728.4 M337.1,722.9 V728.4 M431.1,722.9 V728.4" stroke="#000" stroke-width="2" fill="none"/>
<text x="45.2" y="729.2" font-size="19" text-anchor="end" >0</text>
<text x="45.2" y="651.2" font-size="19" text-anchor="end" >1</text>
<text x="45.2" y="573.2" font-size="19" text-anchor="end" >2</text>
<text x="45.2" y="495.2" font-size="19" text-anchor="end" >3</text>
<path d="M55.9,741.3 V893.3 H432.1" fill="none" stroke="#000" stroke-width="2"/>
<path d="M49.9,742.3 H55.9 M49.9,780.0 H55.9 M49.9,817.8 H55.9 M49.9,855.5 H55.9 M49.9,893.3 H55.9 M55.9,893.3 V898.8 M149.7,893.3 V898.8 M243.5,893.3 V898.8 M337.3,893.3 V898.8 M431.1,893.3 V898.8" stroke="#000" stroke-width="2" fill="none"/>
<text x="45.9" y="748.6" font-size="19" text-anchor="end" >15</text>
<text x="45.9" y="786.3" font-size="19" text-anchor="end" >10</text>
<text x="45.9" y="824.1" font-size="19" text-anchor="end" >5</text>
<text x="45.9" y="861.8" font-size="19" text-anchor="end" >0</text>
<text x="45.9" y="899.6" font-size="19" text-anchor="end" >-5</text>
<text x="55.9" y="918.1" font-size="19" text-anchor="middle" >0</text>
<text x="149.7" y="918.1" font-size="19" text-anchor="middle" >25</text>
<text x="243.5" y="918.1" font-size="19" text-anchor="middle" >50</text>
<text x="337.3" y="918.1" font-size="19" text-anchor="middle" >75</text>
<text x="431.1" y="918.1" font-size="19" text-anchor="middle" >100</text>
<path d="M56.9,830.3 H431.1" stroke="#8a8a8a" stroke-width="1.6" stroke-dasharray="7 7.4" fill="none"/>
<path d="M56.9,880.8 H431.1" stroke="#8a8a8a" stroke-width="1.6" stroke-dasharray="7 7.4" fill="none"/>
<path d="M56.3,830.9 61,840.7 65,847.4 67.5,851.1 69.5,853.3 73.3,856.3 76,858.1 78.3,859 84.8,860.4 86.8,860.6 88.8,860.5 95,859.2 100,857.8 106.8,855.6 108.5,855.3 110.3,855.3 113.3,856.2 117.8,858.3 119.8,859.7 125.8,864.5 131.3,868 132.8,868.8 134.3,869.2 136.3,869.3 138.6,868.9 145.8,866.6 148.3,866 150.6,865.9 153.6,866.1 178.8,869.4 185.3,870.5 189.6,871.6 199.3,875.2 203.6,876.2 213.1,877.5 221.3,877.9 227.3,877.7 234.3,876.7 244.6,874.8 250.8,873.1 263.8,868.5 277.3,862.2 282.3,860.2 287.8,858.4 300.6,854.8 306.3,852.9 312.3,850.4 326.6,844 333.8,841.1 341.1,838.9 348.8,836.8 362.1,834.4 366.1,833.5 370.1,832.2 377.1,829.7" fill="none" stroke="#000" stroke-width="2.1" stroke-linejoin="round"/>
<path d="M377.1,829.7 383.8,827.2 389.1,824.9 392.3,823.1 395.8,820.7 404.6,813.5 408.6,809.7 415.6,802.3 418.3,798.4 420.3,794.9 422.3,790.7 424.1,784.1 427.3,766 429.9,744" fill="none" stroke="#c8000a" stroke-width="1.9" stroke-linejoin="round"/>
<path d="M377.2,488.9 V893.3" stroke="#c4000b" stroke-width="2.6" stroke-dasharray="8.6 7.5" fill="none"/>
<path d="M431.1,488.9 V893.3" stroke="#c4000b" stroke-width="2.6" stroke-dasharray="8.6 7.5" fill="none"/>
<text x="68.1" y="509.6" font-size="21" text-anchor="start" >14 km/h</text>
<text x="70.2" y="769.4" font-size="19" text-anchor="start" >t<tspan dy="-9.5" font-size="17">*</tspan><tspan dy="9.5">=3.343</tspan></text>
<rect x="617.6" y="488.9" width="72.3" height="231.4" fill="#f0edee"/>
<rect x="799.4" y="488.9" width="76.9" height="231.4" fill="#f0edee"/>
<path d="M500.9,718 501.6,718 502.4,717.8 503.9,716.6 505.6,714.4 507.1,711.4 508.9,706.6 510.9,700.1 513.1,692.2 514.9,684.7 517.6,670.4 520.6,652.4 526.9,605.8 531.4,574.6 534.1,557.2 536.6,543.2 538.4,534.9 541.4,525 542.4,522.6 543.1,521.3 543.6,520.8 544.1,520.6 545.6,520.7 547.1,521.2 549.6,522.8 552.4,525.3 556.9,530.4 562.4,537.5 571.4,550.3 577.1,559.1 579.6,562.5 581.4,564.3 583.9,566.1 586.1,567.1 588.1,567.3 589.6,567.1 591.4,566.5 594.9,564.6 598.6,561.9 603.4,557.7 607.1,553.6 622.4,534.7 625.6,531.3 629.4,528.2 638.9,521.8 642.1,519.9 644.9,518.5 650.9,516.2 655.1,514.8 658.9,514 662.1,513.7 665.6,513.8 669.4,514.3 679.1,516.3 684.9,518 692.9,521.1 700.1,524.6 707.9,529 713.4,533 720.1,538.7 724.1,542.7 730.1,549.2 739.6,560.4 747.9,568 750.6,570.8 759.6,581.1 781.4,604.7 790.1,614.8 794.1,619.8 797.4,624.3 798.6,626.3 801.1,631.1 803.4,634.3 806.6,638.4 813.6,646.4 823.4,658 834.4,671.6 840.9,680.3 846.9,689.9 850.4,694.6 852.6,697.4 856.4,700.8 860.4,703.5 874.8,709.7 875.3,722.3 864.4,722.2 860.9,721.9 858.4,721.3 855.4,719.5 851.6,716.5 846.9,713 844.1,710.6 842.4,708.2 838.4,701.1 836.6,698.6 834.1,695.6 828.4,689.6 822.4,682.7 818.1,677.6 814.6,673 811.1,667.7 801.4,651.5 793.6,640 787.4,631.6 781.1,624 770.4,611.9 764.6,606.4 757.1,600 739.9,586.1 737.6,584.6 732.1,581.5 729.6,579.7 727.1,577.4 721.4,571.4 718.6,569.1 714.6,566.4 706.1,561.5 695.1,554.8 686.9,550.8 683.6,549.6 680.6,548.7 674.4,547.3 668.6,546.3 662.9,545.6 658.6,545.4 655.1,545.5 651.6,545.9 647.9,546.6 645.6,547.3 644.1,548.2 639.9,551.7 628.4,558.7 623.6,562.1 621.4,564.2 618.9,566.8 613.6,573.4 611.1,577.6 604.9,589.8 603.1,592.4 600.1,596 594.9,601.2 586.1,608.1 581.6,611.3 577.9,613.1 575.9,613.6 574.4,613.4 572.6,612.5 570.6,610.8 569.1,609.1 567.6,607 561.1,596.4 555.9,588.6 553.9,586 552.1,584.2 550.9,583.5 550.4,583.5 549.6,583.9 548.4,585 545.6,588.6 543.4,593 540.6,600.3 538.1,608.4 535.4,620.1 520.4,690.3 518.9,696.5 517.6,700.8 515.4,706.8 513.1,711.9 511.1,715.6 509.4,718.1 507.6,719.7 504.9,721.2 502.9,721.5 500.9,721Z" fill="rgba(241,205,165,0.3)" stroke="none"/>
<path d="M500.9,717 501.6,715.8 502.6,713.6 504.4,708.1 506.6,699 508.6,689.3 511.4,671.7 523.6,582.8 528.9,547.8 531.9,530.2 533.6,521.9 534.4,519.4 535.9,515.6 536.9,513.8 537.6,513.3 538.1,513.4 539.1,514 540.6,515.7 542.4,518.5 544.4,522.4 546.1,526.7 551.4,541.3 561.1,563.2 564.4,571.3 565.9,574.4 567.1,576.1 569.1,578.3 572.6,581 575.6,582.6 581.4,584.5 583.4,584.7 585.1,584.5 586.9,583.9 588.4,582.9 590.6,580.5 595.6,573.5 597.6,571.1 603.6,565.2 614.6,555.2 620.4,549.6 623.4,547.1 627.6,544.6 632.6,542.3 637.6,540.4 644.1,538.5 646.4,538 656.1,536.7 665.1,535.9 672.6,536.1 683.9,537.3 694.4,539.1 702.1,541.3 707.1,543 710.9,544.6 715.4,546.7 719.9,549.1 729.9,555.9 737.4,560 740.1,561.8 744.1,565.2 750.4,571.6 759.1,581.6 785.4,610 791.6,617.3 794.9,621.5 797.9,625.8 801.1,632.1 803.9,636 825.6,661.6 828.9,665.8 835.9,676 840.4,682 846.6,689.9 853.6,698.1 857.1,701.9 860.4,704.8 868.1,710.6 874.8,715.3 874.8,716.8 869.6,714.5 863.6,711.2 853.9,704.8 850.4,701.9 848.4,699.5 844.4,694 837.9,685.6 827.6,673.2 815.9,657.8 805.4,644.9 801.6,640.7 797.6,637.2 791.6,630.8 786.9,625.2 779.4,615.6 773.6,609.2 769.1,604.7 764.1,600 760.6,596.9 757.1,594.2 751.6,590.5 743.6,585.4 738.9,582.7 733.1,579.7 728.9,577.9 718.4,574.1 696.9,565.6 693.4,564.7 687.4,563.9 670.1,562.5 662.1,562.2 656.4,562.8 644.6,565.1 640.9,566.3 638.1,567.8 634.4,571.3 625.9,581.5 617.1,591.2 606.4,602.7 601.6,607.5 597.4,611.1 591.9,615.1 587.9,617.3 584.1,618.5 582.6,618.7 581.1,618.5 578.1,617.4 574.6,615.2 570.6,611.8 569.1,609.7 567.6,606.9 562.9,595.9 561.1,592.3 559.9,590.3 556.4,585.4 553.4,582 552.1,581 550.9,580.3 549.9,580.1 549.1,580.1 548.1,580.6 547.1,581.5 543.6,585.6 541.4,589.6 538.4,597.1 535.6,605.8 533.4,615.3 529.1,635.6 518.6,687.6 517.1,694.3 515.6,699.7 513.9,704.2 511.9,708.7 509.9,712.6 508.1,715.3 506.4,717.4 504.1,719.2 502.4,720.3 500.9,720.5Z" fill="rgba(158,178,238,0.3)" stroke="none"/>
<clipPath id="cb5"><path d="M500.9,717 501.6,715.8 502.6,713.6 504.4,708.1 506.6,699 508.6,689.3 511.4,671.7 523.6,582.8 528.9,547.8 531.9,530.2 533.6,521.9 534.4,519.4 535.9,515.6 536.9,513.8 537.6,513.3 538.1,513.4 539.1,514 540.6,515.7 542.4,518.5 544.4,522.4 546.1,526.7 551.4,541.3 561.1,563.2 564.4,571.3 565.9,574.4 567.1,576.1 569.1,578.3 572.6,581 575.6,582.6 581.4,584.5 583.4,584.7 585.1,584.5 586.9,583.9 588.4,582.9 590.6,580.5 595.6,573.5 597.6,571.1 603.6,565.2 614.6,555.2 620.4,549.6 623.4,547.1 627.6,544.6 632.6,542.3 637.6,540.4 644.1,538.5 646.4,538 656.1,536.7 665.1,535.9 672.6,536.1 683.9,537.3 694.4,539.1 702.1,541.3 707.1,543 710.9,544.6 715.4,546.7 719.9,549.1 729.9,555.9 737.4,560 740.1,561.8 744.1,565.2 750.4,571.6 759.1,581.6 785.4,610 791.6,617.3 794.9,621.5 797.9,625.8 801.1,632.1 803.9,636 825.6,661.6 828.9,665.8 835.9,676 840.4,682 846.6,689.9 853.6,698.1 857.1,701.9 860.4,704.8 868.1,710.6 874.8,715.3 874.8,716.8 869.6,714.5 863.6,711.2 853.9,704.8 850.4,701.9 848.4,699.5 844.4,694 837.9,685.6 827.6,673.2 815.9,657.8 805.4,644.9 801.6,640.7 797.6,637.2 791.6,630.8 786.9,625.2 779.4,615.6 773.6,609.2 769.1,604.7 764.1,600 760.6,596.9 757.1,594.2 751.6,590.5 743.6,585.4 738.9,582.7 733.1,579.7 728.9,577.9 718.4,574.1 696.9,565.6 693.4,564.7 687.4,563.9 670.1,562.5 662.1,562.2 656.4,562.8 644.6,565.1 640.9,566.3 638.1,567.8 634.4,571.3 625.9,581.5 617.1,591.2 606.4,602.7 601.6,607.5 597.4,611.1 591.9,615.1 587.9,617.3 584.1,618.5 582.6,618.7 581.1,618.5 578.1,617.4 574.6,615.2 570.6,611.8 569.1,609.7 567.6,606.9 562.9,595.9 561.1,592.3 559.9,590.3 556.4,585.4 553.4,582 552.1,581 550.9,580.3 549.9,580.1 549.1,580.1 548.1,580.6 547.1,581.5 543.6,585.6 541.4,589.6 538.4,597.1 535.6,605.8 533.4,615.3 529.1,635.6 518.6,687.6 517.1,694.3 515.6,699.7 513.9,704.2 511.9,708.7 509.9,712.6 508.1,715.3 506.4,717.4 504.1,719.2 502.4,720.3 500.9,720.5Z"/></clipPath>
<path d="M500.9,718 501.6,718 502.4,717.8 503.9,716.6 505.6,714.4 507.1,711.4 508.9,706.6 510.9,700.1 513.1,692.2 514.9,684.7 517.6,670.4 520.6,652.4 526.9,605.8 531.4,574.6 534.1,557.2 536.6,543.2 538.4,534.9 541.4,525 542.4,522.6 543.1,521.3 543.6,520.8 544.1,520.6 545.6,520.7 547.1,521.2 549.6,522.8 552.4,525.3 556.9,530.4 562.4,537.5 571.4,550.3 577.1,559.1 579.6,562.5 581.4,564.3 583.9,566.1 586.1,567.1 588.1,567.3 589.6,567.1 591.4,566.5 594.9,564.6 598.6,561.9 603.4,557.7 607.1,553.6 622.4,534.7 625.6,531.3 629.4,528.2 638.9,521.8 642.1,519.9 644.9,518.5 650.9,516.2 655.1,514.8 658.9,514 662.1,513.7 665.6,513.8 669.4,514.3 679.1,516.3 684.9,518 692.9,521.1 700.1,524.6 707.9,529 713.4,533 720.1,538.7 724.1,542.7 730.1,549.2 739.6,560.4 747.9,568 750.6,570.8 759.6,581.1 781.4,604.7 790.1,614.8 794.1,619.8 797.4,624.3 798.6,626.3 801.1,631.1 803.4,634.3 806.6,638.4 813.6,646.4 823.4,658 834.4,671.6 840.9,680.3 846.9,689.9 850.4,694.6 852.6,697.4 856.4,700.8 860.4,703.5 874.8,709.7 875.3,722.3 864.4,722.2 860.9,721.9 858.4,721.3 855.4,719.5 851.6,716.5 846.9,713 844.1,710.6 842.4,708.2 838.4,701.1 836.6,698.6 834.1,695.6 828.4,689.6 822.4,682.7 818.1,677.6 814.6,673 811.1,667.7 801.4,651.5 793.6,640 787.4,631.6 781.1,624 770.4,611.9 764.6,606.4 757.1,600 739.9,586.1 737.6,584.6 732.1,581.5 729.6,579.7 727.1,577.4 721.4,571.4 718.6,569.1 714.6,566.4 706.1,561.5 695.1,554.8 686.9,550.8 683.6,549.6 680.6,548.7 674.4,547.3 668.6,546.3 662.9,545.6 658.6,545.4 655.1,545.5 651.6,545.9 647.9,546.6 645.6,547.3 644.1,548.2 639.9,551.7 628.4,558.7 623.6,562.1 621.4,564.2 618.9,566.8 613.6,573.4 611.1,577.6 604.9,589.8 603.1,592.4 600.1,596 594.9,601.2 586.1,608.1 581.6,611.3 577.9,613.1 575.9,613.6 574.4,613.4 572.6,612.5 570.6,610.8 569.1,609.1 567.6,607 561.1,596.4 555.9,588.6 553.9,586 552.1,584.2 550.9,583.5 550.4,583.5 549.6,583.9 548.4,585 545.6,588.6 543.4,593 540.6,600.3 538.1,608.4 535.4,620.1 520.4,690.3 518.9,696.5 517.6,700.8 515.4,706.8 513.1,711.9 511.1,715.6 509.4,718.1 507.6,719.7 504.9,721.2 502.9,721.5 500.9,721Z" clip-path="url(#cb5)" fill="rgba(255,230,235,0.47)" stroke="none"/>
<path d="M500.9,718 501.6,718 502.4,717.8 503.9,716.6 505.6,714.4 507.1,711.4 508.9,706.6 510.9,700.1 513.1,692.2 514.9,684.7 517.6,670.4 520.6,652.4 526.9,605.8 531.4,574.6 534.1,557.2 536.6,543.2 538.4,534.9 541.4,525 542.4,522.6 543.1,521.3 543.6,520.8 544.1,520.6 545.6,520.7 547.1,521.2 549.6,522.8 552.4,525.3 556.9,530.4 562.4,537.5 571.4,550.3 577.1,559.1 579.6,562.5 581.4,564.3 583.9,566.1 586.1,567.1 588.1,567.3 589.6,567.1 591.4,566.5 594.9,564.6 598.6,561.9 603.4,557.7 607.1,553.6 622.4,534.7 625.6,531.3 629.4,528.2 638.9,521.8 642.1,519.9 644.9,518.5 650.9,516.2 655.1,514.8 658.9,514 662.1,513.7 665.6,513.8 669.4,514.3 679.1,516.3 684.9,518 692.9,521.1 700.1,524.6 707.9,529 713.4,533 720.1,538.7 724.1,542.7 730.1,549.2 739.6,560.4 747.9,568 750.6,570.8 759.6,581.1 781.4,604.7 790.1,614.8 794.1,619.8 797.4,624.3 798.6,626.3 801.1,631.1 803.4,634.3 806.6,638.4 813.6,646.4 823.4,658 834.4,671.6 840.9,680.3 846.9,689.9 850.4,694.6 852.6,697.4 856.4,700.8 860.4,703.5 874.8,709.7" fill="none" stroke="#f6a04a" stroke-width="1.5" stroke-dasharray="3.4 2.6"/>
<path d="M500.9,721 502.9,721.5 504.9,721.2 507.6,719.7 509.4,718.1 511.1,715.6 513.1,711.9 515.4,706.8 517.6,700.8 518.9,696.5 520.4,690.3 535.4,620.1 538.1,608.4 540.6,600.3 543.4,593 545.6,588.6 548.4,585 549.6,583.9 550.4,583.5 550.9,583.5 552.1,584.2 553.9,586 555.9,588.6 561.1,596.4 567.6,607 569.1,609.1 570.6,610.8 572.6,612.5 574.4,613.4 575.9,613.6 577.9,613.1 581.6,611.3 586.1,608.1 594.9,601.2 600.1,596 603.1,592.4 604.9,589.8 611.1,577.6 613.6,573.4 618.9,566.8 621.4,564.2 623.6,562.1 628.4,558.7 639.9,551.7 644.1,548.2 645.6,547.3 647.9,546.6 651.6,545.9 655.1,545.5 658.6,545.4 662.9,545.6 668.6,546.3 674.4,547.3 680.6,548.7 683.6,549.6 686.9,550.8 695.1,554.8 706.1,561.5 714.6,566.4 718.6,569.1 721.4,571.4 727.1,577.4 729.6,579.7 732.1,581.5 737.6,584.6 739.9,586.1 757.1,600 764.6,606.4 770.4,611.9 781.1,624 787.4,631.6 793.6,640 801.4,651.5 811.1,667.7 814.6,673 818.1,677.6 822.4,682.7 828.4,689.6 834.1,695.6 836.6,698.6 838.4,701.1 842.4,708.2 844.1,710.6 846.9,713 851.6,716.5 855.4,719.5 858.4,721.3 860.9,721.9 864.4,722.2 875.3,722.3" fill="none" stroke="#f6a04a" stroke-width="1.5" stroke-dasharray="3.4 2.6"/>
<path d="M500.9,717 501.6,715.8 502.6,713.6 504.4,708.1 506.6,699 508.6,689.3 511.4,671.7 523.6,582.8 528.9,547.8 531.9,530.2 533.6,521.9 534.4,519.4 535.9,515.6 536.9,513.8 537.6,513.3 538.1,513.4 539.1,514 540.6,515.7 542.4,518.5 544.4,522.4 546.1,526.7 551.4,541.3 561.1,563.2 564.4,571.3 565.9,574.4 567.1,576.1 569.1,578.3 572.6,581 575.6,582.6 581.4,584.5 583.4,584.7 585.1,584.5 586.9,583.9 588.4,582.9 590.6,580.5 595.6,573.5 597.6,571.1 603.6,565.2 614.6,555.2 620.4,549.6 623.4,547.1 627.6,544.6 632.6,542.3 637.6,540.4 644.1,538.5 646.4,538 656.1,536.7 665.1,535.9 672.6,536.1 683.9,537.3 694.4,539.1 702.1,541.3 707.1,543 710.9,544.6 715.4,546.7 719.9,549.1 729.9,555.9 737.4,560 740.1,561.8 744.1,565.2 750.4,571.6 759.1,581.6 785.4,610 791.6,617.3 794.9,621.5 797.9,625.8 801.1,632.1 803.9,636 825.6,661.6 828.9,665.8 835.9,676 840.4,682 846.6,689.9 853.6,698.1 857.1,701.9 860.4,704.8 868.1,710.6 874.8,715.3" fill="none" stroke="#4a40ea" stroke-width="1.5" stroke-dasharray="3.4 2.6"/>
<path d="M500.9,720.5 502.4,720.3 504.1,719.2 506.4,717.4 508.1,715.3 509.9,712.6 511.9,708.7 513.9,704.2 515.6,699.7 517.1,694.3 518.6,687.6 529.1,635.6 533.4,615.3 535.6,605.8 538.4,597.1 541.4,589.6 543.6,585.6 547.1,581.5 548.1,580.6 549.1,580.1 549.9,580.1 550.9,580.3 552.1,581 553.4,582 556.4,585.4 559.9,590.3 561.1,592.3 562.9,595.9 567.6,606.9 569.1,609.7 570.6,611.8 574.6,615.2 578.1,617.4 581.1,618.5 582.6,618.7 584.1,618.5 587.9,617.3 591.9,615.1 597.4,611.1 601.6,607.5 606.4,602.7 617.1,591.2 625.9,581.5 634.4,571.3 638.1,567.8 640.9,566.3 644.6,565.1 656.4,562.8 662.1,562.2 670.1,562.5 687.4,563.9 693.4,564.7 696.9,565.6 718.4,574.1 728.9,577.9 733.1,579.7 738.9,582.7 743.6,585.4 751.6,590.5 757.1,594.2 760.6,596.9 764.1,600 769.1,604.7 773.6,609.2 779.4,615.6 786.9,625.2 791.6,630.8 797.6,637.2 801.6,640.7 805.4,644.9 815.9,657.8 827.6,673.2 837.9,685.6 844.4,694 848.4,699.5 850.4,701.9 853.9,704.8 863.6,711.2 869.6,714.5 874.8,716.8" fill="none" stroke="#4a40ea" stroke-width="1.5" stroke-dasharray="3.4 2.6"/>
<path d="M500.9,718.4 501.9,717.4 503.1,715.5 505.9,709 508.6,700.8 511.1,690.3 515.6,666.1 521.4,627.1 524.9,605.2 527.4,590.5 529.4,580.9 532.4,569.4 534.6,562.5 536.4,558.9 539.4,555.2 541.4,553.6 542.1,553.4 542.9,553.4 544.1,553.9 545.6,554.7 548.6,557.4 551.1,560.4 552.6,562.5 559.6,575.8 565.4,585.1 569.1,590.5 574.9,597.2 578.1,600.5 579.6,601.6 581.1,602.4 582.4,602.8 583.9,602.9 586.1,602.5 588.6,601.4 591.9,599.3 594.6,597 597.9,593.8 607.4,583.6 614.6,575.6 622.1,566.9 625.1,564.1 629.9,560.7 636.4,556.7 643.4,552.9 645.6,552 656.1,549.9 660.1,549.4 663.9,549.3 671.4,549.7 689.1,551.2 694.1,551.9 698.6,553.1 710.4,557.3 728.6,565 732.1,566.8 735.9,569 740.1,571.8 743.4,574.2 751.6,581.1 757.9,586.8 762.9,592 769.4,599.3 797.1,632.7 813.4,650.9 823.4,662.8 834.4,676.9 843.9,690.7 847.4,695.2 850.1,698.3 855.4,703.4 860.6,707.5 867.6,712 874.8,716" fill="none" stroke="#3a33f0" stroke-width="2.6" stroke-linejoin="round"/>
<path d="M500.9,719.5 502.6,718.9 504.4,717.3 506.4,714.8 509.1,710.3 510.6,707.7 511.6,705.3 514.4,696.5 517.9,682.4 520.1,671.3 525.4,641.6 531.1,606.6 536.4,579.2 538.4,570.9 540.4,564.8 543.1,557.8 544.1,555.8 545.1,554.4 546.4,553.4 548.9,553.2 550.9,553.7 552.9,554.9 554.4,556.5 556.4,559.1 561.1,566.2 567.4,576.3 570.6,580.5 574.9,584.6 578.1,586.8 579.6,587.4 580.9,587.7 582.4,587.7 584.1,587.4 588.4,585.9 593.9,582.9 598.1,579.8 603.4,575 607.6,570.3 614.1,562 621.1,551.8 623.9,548.2 629.9,542 635.4,537.3 639.6,534.5 642.9,532.8 645.4,531.8 655.1,529.7 658.4,529.2 661.4,529.1 665.1,529.3 669.1,529.8 681.4,532.7 688.9,535.1 693.1,536.9 695.9,538.3 699.9,540.7 708.4,546.2 717.6,552.7 738.4,569.4 743.9,574.1 751.6,581.5 759.6,590.6 788.6,628.3 798.6,640.3 815.9,660.3 828.6,675.7 839.1,688.7 850.1,703.2 851.9,704.9 853.9,706.4 863.1,712.2 869.6,715.4 874.8,717.4" fill="none" stroke="#fb8f22" stroke-width="2.6" stroke-linejoin="round"/>
<path d="M616,861.3 616,861.3 619.8,861.4 625,863.9 630.2,865.8 633.8,866.8 638.2,867.4 645.2,867.8 654.8,867.2 667,865.8 676.2,864 686.8,861.3 689.8,861.3 689.8,861.3Z" fill="#d9d5d7" stroke="none"/>
<path d="M797.8,827.2 797.8,827.1 812.5,825.8 819,825 835.8,821.5 842.5,819.8 845.8,818.7 849.2,817.1 861,810.8 866,807.5 867.2,805.9 868.8,802.9 871.5,796 872.5,792.7 875,779.5 876.5,764.3 876.5,827.2Z" fill="#d9d5d7" stroke="none"/>
<path d="M500.7,487.9 V722.8 H877.5" fill="none" stroke="#000" stroke-width="2"/>
<path d="M494.7,722.8 H500.7 M494.7,644.8 H500.7 M494.7,566.9 H500.7 M494.7,488.9 H500.7 M497.7,683.8 H500.7 M497.7,605.8 H500.7 M497.7,527.9 H500.7 M500.7,722.8 V728.3 M594.6,722.8 V728.3 M688.6,722.8 V728.3 M782.5,722.8 V728.3 M876.5,722.8 V728.3" stroke="#000" stroke-width="2" fill="none"/>
<text x="490.7" y="729.1" font-size="19" text-anchor="end" >0</text>
<text x="490.7" y="651.1" font-size="19" text-anchor="end" >1</text>
<text x="490.7" y="573.2" font-size="19" text-anchor="end" >2</text>
<text x="490.7" y="495.2" font-size="19" text-anchor="end" >3</text>
<path d="M502.3,742.0 V894.9 H877.5" fill="none" stroke="#000" stroke-width="2"/>
<path d="M496.3,743.0 H502.3 M496.3,793.6 H502.3 M496.3,844.3 H502.3 M496.3,894.9 H502.3 M502.3,894.9 V900.4 M595.9,894.9 V900.4 M689.4,894.9 V900.4 M783.0,894.9 V900.4 M876.5,894.9 V900.4" stroke="#000" stroke-width="2" fill="none"/>
<text x="492.3" y="749.3" font-size="19" text-anchor="end" >20</text>
<text x="492.3" y="799.9" font-size="19" text-anchor="end" >10</text>
<text x="492.3" y="850.6" font-size="19" text-anchor="end" >0</text>
<text x="492.3" y="901.2" font-size="19" text-anchor="end" >-10</text>
<text x="502.3" y="919.7" font-size="19" text-anchor="middle" >0</text>
<text x="595.9" y="919.7" font-size="19" text-anchor="middle" >25</text>
<text x="689.4" y="919.7" font-size="19" text-anchor="middle" >50</text>
<text x="783.0" y="919.7" font-size="19" text-anchor="middle" >75</text>
<text x="876.5" y="919.7" font-size="19" text-anchor="middle" >100</text>
<path d="M503.3,827.2 H876.5" stroke="#8a8a8a" stroke-width="1.6" stroke-dasharray="7 7.4" fill="none"/>
<path d="M503.3,861.3 H876.5" stroke="#8a8a8a" stroke-width="1.6" stroke-dasharray="7 7.4" fill="none"/>
<path d="M504,827.6 524.2,835.6 534,838.1 537.5,839.3 540.5,840.9 553.5,848.7 556,850 558,850.7 560.5,851.2 566.2,851.9 568.8,852.3 573,853.7 586,858.3 589.2,859.1 591,859.2 592.8,859.1 601,857.1 605.2,856.9 608,857.1 610.5,857.5 612.8,858.2 616,859.6" fill="none" stroke="#000" stroke-width="2.1" stroke-linejoin="round"/>
<path d="M616,859.6 624.5,863.7 632,866.4 636.2,867.3 644.8,867.8 649,867.6 655,867.2 668.5,865.5 681,862.9 689.8,860.3" fill="none" stroke="#c8000a" stroke-width="1.9" stroke-linejoin="round"/>
<path d="M689.8,860.3 695.5,858.2 719,848.6 726.2,845.9 733.5,843.5 749.8,838.8 768.5,832.7 777.8,830 782,829 787.8,828.1 797.8,827.1" fill="none" stroke="#000" stroke-width="2.1" stroke-linejoin="round"/>
<path d="M797.8,827.1 812.5,825.8 819,825 835.8,821.5 842.5,819.8 845.8,818.7 849.2,817.1 861,810.8 866,807.5 867.2,805.9 868.8,802.9 871.5,796 872.5,792.7 875,779.5 876.5,764.3" fill="none" stroke="#c8000a" stroke-width="1.9" stroke-linejoin="round"/>
<path d="M616.1,488.9 V894.9" stroke="#c4000b" stroke-width="2.6" stroke-dasharray="8.6 7.5" fill="none"/>
<path d="M689.9,488.9 V894.9" stroke="#c4000b" stroke-width="2.6" stroke-dasharray="8.6 7.5" fill="none"/>
<path d="M797.9,488.9 V894.9" stroke="#c4000b" stroke-width="2.6" stroke-dasharray="8.6 7.5" fill="none"/>
<path d="M876.3,488.9 V894.9" stroke="#c4000b" stroke-width="2.6" stroke-dasharray="8.6 7.5" fill="none"/>
<text x="514.5" y="505.7" font-size="21" text-anchor="start" >15 km/h</text>
<text x="516.6" y="770.1" font-size="19" text-anchor="start" >t<tspan dy="-9.5" font-size="17">*</tspan><tspan dy="9.5">=3.364</tspan></text>
<rect x="1063.5" y="488.9" width="76.4" height="231.4" fill="#f0edee"/>
<rect x="1267.9" y="488.9" width="52.7" height="231.4" fill="#f0edee"/>
<path d="M944.9,718 946.1,717.5 947.9,715.7 949.9,712.9 951.4,709.9 953.4,704.5 955.6,697.4 957.4,691.3 958.9,685 961.6,670.7 964.6,652.2 975.9,565.2 977.9,551.5 980.6,535.4 982.6,525.5 984.1,520.2 986.1,515.8 987.6,513.1 988.9,511.5 989.6,511 990.1,510.9 992.1,511.6 994.4,513.2 996.6,515.5 998.9,518.6 1001.6,523.2 1008.4,535.6 1015.6,549.5 1017.6,552.9 1019.4,555.4 1023.1,559.8 1027.2,563.5 1031.2,566.3 1033.4,567.5 1034.7,567.9 1037.2,567.5 1040.2,566 1043.4,563.7 1048.2,559.6 1052.2,555.3 1061.2,544.2 1072.2,532.2 1083.7,521.6 1087.2,518.8 1090.4,516.8 1096.4,514.2 1101.7,512.3 1106.2,511.3 1110.4,511 1115.9,511.3 1121.4,512.4 1126.4,514.1 1130.7,516.4 1139.4,522.2 1150.2,528.6 1155.4,531.9 1161.2,535.8 1166.2,539.6 1171.7,544.3 1179.9,552.1 1193.7,566.1 1204.4,577.9 1217.4,593.5 1227.9,604.8 1232.4,610.3 1241.7,623.2 1248.2,632.8 1261.2,653.8 1265.7,660.6 1272.4,669.9 1279.7,678.9 1291.7,692.5 1300.4,701.5 1305.7,706.1 1311.2,710.6 1315.7,713.9 1319.7,716.5 1319.7,719.8 1315.9,719.1 1311.4,717.7 1303.2,714.3 1299.9,712.6 1295.9,710.2 1291.7,707 1284.9,701.5 1281.4,698.3 1277.2,693.8 1272.2,688 1263.2,677.2 1256.4,668.7 1247.4,656.3 1238.9,642.9 1235.7,638.1 1232.2,633.2 1228.9,629.3 1220.4,619.9 1207.9,607.2 1197.4,597.4 1187.9,589.2 1179.4,582.5 1169.7,575.5 1160.2,569.4 1153.4,565.6 1150.4,564.2 1143.4,561.6 1140.2,560.2 1138.4,559.1 1134.4,556.2 1132.4,555.1 1127.7,553.9 1123.2,553.1 1119.2,552.6 1115.2,552.4 1110.4,552.7 1104.9,553.4 1089.4,556.3 1085.4,557.4 1080.9,559 1075.4,561.4 1073.2,562.7 1070.7,564.7 1068.2,567 1060.9,575.3 1058.2,579.4 1051.4,590.8 1048.2,595.1 1044.4,598.5 1037.9,602.9 1035.4,604.8 1033.7,606.4 1029.4,611.2 1028.2,612.3 1026.9,612.9 1025.4,613.2 1023.6,613 1021.6,612.2 1019.4,610.8 1015.4,607.7 1007.9,599.8 1003.4,596.4 999.9,594.2 997.6,593.4 996.6,593.4 995.1,594.1 992.6,596.2 990.9,598.8 988.9,603.1 985.6,611.8 983.9,617.5 981.6,626.4 977.9,643.1 973.4,666.7 971.6,675 967.6,689.6 964.1,700.1 961.9,705.3 958.4,711.9 955.9,716 953.6,718.9 951.9,720.4 949.4,721.4 947.1,721.6 944.9,721Z" fill="rgba(241,205,165,0.3)" stroke="none"/>
<path d="M944.9,717 945.6,716 946.6,713.9 948.6,707.7 951.1,696.9 952.9,687.4 954.9,673.3 965.6,589.7 970.4,555.7 973.4,537.4 976.4,522.7 978.6,514.3 979.6,512 982.4,507.3 983.9,505.6 984.6,505.1 985.4,504.9 986.1,505 987.1,505.5 988.9,507.2 990.9,510.4 992.6,514.1 994.1,518.7 1003.9,552.3 1007.6,562.6 1011.1,571 1013.9,576.3 1020.4,586.4 1022.9,589.5 1024.2,590.5 1025.2,591 1026.7,591.1 1028.2,590.5 1029.7,589.4 1035.2,584.8 1037.7,583.4 1044.2,580.1 1047.9,577.6 1049.4,576.2 1051.2,574.2 1057.7,565.2 1060.4,561.8 1064.7,558.2 1069.7,554.7 1074.7,552 1085.4,547.8 1090.4,546.3 1099.2,544.7 1104.4,543.9 1108.9,543.4 1112.9,543.3 1116.9,543.4 1121.7,543.9 1126.9,544.6 1141.4,547.5 1150.9,550.3 1160.7,553.9 1171.7,558.9 1176.4,561.3 1180.7,563.8 1185.7,567.2 1194.4,573.7 1204.4,581.8 1211.2,588.3 1224.7,602.5 1230.9,609.7 1235.7,615.9 1240.9,623.6 1247.7,634.6 1252.4,641.3 1266.4,659.1 1280.2,677.3 1287.4,686.2 1295.9,696 1302.7,702.9 1312.2,711.1 1316.2,714 1319.7,716.2 1319.7,718 1317.2,717.2 1314.4,716 1308.2,712.3 1301.2,707.2 1294.9,701.4 1280.4,685.4 1265.7,667.4 1252.4,650.3 1247.4,643.4 1241.2,634 1236.7,628.5 1231.7,623.2 1224.9,616.9 1214.9,608.3 1206.7,601.7 1195.9,594 1183.9,586.3 1172.9,580.3 1163.7,575.9 1146.2,569.1 1141.2,567.5 1136.4,566.6 1131.4,565.9 1126.4,565.6 1121.2,565.5 1113.7,565.9 1105.7,567.3 1099.4,568.8 1091.4,571.2 1086.9,573.1 1081.9,576.1 1074.7,581.4 1071.7,584 1062.9,592.7 1054.9,598.8 1047.7,603.6 1035.4,610.8 1032.4,612.3 1029.9,613 1027.9,612.7 1025.4,611.4 1019.4,606.6 1017.4,604.6 1014.1,600.6 1009.4,593.8 1002.4,580.9 999.4,576.5 997.1,573.9 995.1,572.3 994.1,571.8 993.1,571.6 992.6,571.6 991.9,572.1 990.9,573.1 989.6,575.1 987.4,578.9 985.9,582.1 982.9,590.3 979.9,600.4 976.6,615.4 967.6,663.1 964.4,679 960.9,694.6 958.1,704.2 954.9,713.5 953.6,716.2 952.4,718.2 950.4,720 948.6,721 947.6,721.2 946.6,721.2 944.9,720.5Z" fill="rgba(158,178,238,0.3)" stroke="none"/>
<clipPath id="cb6"><path d="M944.9,717 945.6,716 946.6,713.9 948.6,707.7 951.1,696.9 952.9,687.4 954.9,673.3 965.6,589.7 970.4,555.7 973.4,537.4 976.4,522.7 978.6,514.3 979.6,512 982.4,507.3 983.9,505.6 984.6,505.1 985.4,504.9 986.1,505 987.1,505.5 988.9,507.2 990.9,510.4 992.6,514.1 994.1,518.7 1003.9,552.3 1007.6,562.6 1011.1,571 1013.9,576.3 1020.4,586.4 1022.9,589.5 1024.2,590.5 1025.2,591 1026.7,591.1 1028.2,590.5 1029.7,589.4 1035.2,584.8 1037.7,583.4 1044.2,580.1 1047.9,577.6 1049.4,576.2 1051.2,574.2 1057.7,565.2 1060.4,561.8 1064.7,558.2 1069.7,554.7 1074.7,552 1085.4,547.8 1090.4,546.3 1099.2,544.7 1104.4,543.9 1108.9,543.4 1112.9,543.3 1116.9,543.4 1121.7,543.9 1126.9,544.6 1141.4,547.5 1150.9,550.3 1160.7,553.9 1171.7,558.9 1176.4,561.3 1180.7,563.8 1185.7,567.2 1194.4,573.7 1204.4,581.8 1211.2,588.3 1224.7,602.5 1230.9,609.7 1235.7,615.9 1240.9,623.6 1247.7,634.6 1252.4,641.3 1266.4,659.1 1280.2,677.3 1287.4,686.2 1295.9,696 1302.7,702.9 1312.2,711.1 1316.2,714 1319.7,716.2 1319.7,718 1317.2,717.2 1314.4,716 1308.2,712.3 1301.2,707.2 1294.9,701.4 1280.4,685.4 1265.7,667.4 1252.4,650.3 1247.4,643.4 1241.2,634 1236.7,628.5 1231.7,623.2 1224.9,616.9 1214.9,608.3 1206.7,601.7 1195.9,594 1183.9,586.3 1172.9,580.3 1163.7,575.9 1146.2,569.1 1141.2,567.5 1136.4,566.6 1131.4,565.9 1126.4,565.6 1121.2,565.5 1113.7,565.9 1105.7,567.3 1099.4,568.8 1091.4,571.2 1086.9,573.1 1081.9,576.1 1074.7,581.4 1071.7,584 1062.9,592.7 1054.9,598.8 1047.7,603.6 1035.4,610.8 1032.4,612.3 1029.9,613 1027.9,612.7 1025.4,611.4 1019.4,606.6 1017.4,604.6 1014.1,600.6 1009.4,593.8 1002.4,580.9 999.4,576.5 997.1,573.9 995.1,572.3 994.1,571.8 993.1,571.6 992.6,571.6 991.9,572.1 990.9,573.1 989.6,575.1 987.4,578.9 985.9,582.1 982.9,590.3 979.9,600.4 976.6,615.4 967.6,663.1 964.4,679 960.9,694.6 958.1,704.2 954.9,713.5 953.6,716.2 952.4,718.2 950.4,720 948.6,721 947.6,721.2 946.6,721.2 944.9,720.5Z"/></clipPath>
<path d="M944.9,718 946.1,717.5 947.9,715.7 949.9,712.9 951.4,709.9 953.4,704.5 955.6,697.4 957.4,691.3 958.9,685 961.6,670.7 964.6,652.2 975.9,565.2 977.9,551.5 980.6,535.4 982.6,525.5 984.1,520.2 986.1,515.8 987.6,513.1 988.9,511.5 989.6,511 990.1,510.9 992.1,511.6 994.4,513.2 996.6,515.5 998.9,518.6 1001.6,523.2 1008.4,535.6 1015.6,549.5 1017.6,552.9 1019.4,555.4 1023.1,559.8 1027.2,563.5 1031.2,566.3 1033.4,567.5 1034.7,567.9 1037.2,567.5 1040.2,566 1043.4,563.7 1048.2,559.6 1052.2,555.3 1061.2,544.2 1072.2,532.2 1083.7,521.6 1087.2,518.8 1090.4,516.8 1096.4,514.2 1101.7,512.3 1106.2,511.3 1110.4,511 1115.9,511.3 1121.4,512.4 1126.4,514.1 1130.7,516.4 1139.4,522.2 1150.2,528.6 1155.4,531.9 1161.2,535.8 1166.2,539.6 1171.7,544.3 1179.9,552.1 1193.7,566.1 1204.4,577.9 1217.4,593.5 1227.9,604.8 1232.4,610.3 1241.7,623.2 1248.2,632.8 1261.2,653.8 1265.7,660.6 1272.4,669.9 1279.7,678.9 1291.7,692.5 1300.4,701.5 1305.7,706.1 1311.2,710.6 1315.7,713.9 1319.7,716.5 1319.7,719.8 1315.9,719.1 1311.4,717.7 1303.2,714.3 1299.9,712.6 1295.9,710.2 1291.7,707 1284.9,701.5 1281.4,698.3 1277.2,693.8 1272.2,688 1263.2,677.2 1256.4,668.7 1247.4,656.3 1238.9,642.9 1235.7,638.1 1232.2,633.2 1228.9,629.3 1220.4,619.9 1207.9,607.2 1197.4,597.4 1187.9,589.2 1179.4,582.5 1169.7,575.5 1160.2,569.4 1153.4,565.6 1150.4,564.2 1143.4,561.6 1140.2,560.2 1138.4,559.1 1134.4,556.2 1132.4,555.1 1127.7,553.9 1123.2,553.1 1119.2,552.6 1115.2,552.4 1110.4,552.7 1104.9,553.4 1089.4,556.3 1085.4,557.4 1080.9,559 1075.4,561.4 1073.2,562.7 1070.7,564.7 1068.2,567 1060.9,575.3 1058.2,579.4 1051.4,590.8 1048.2,595.1 1044.4,598.5 1037.9,602.9 1035.4,604.8 1033.7,606.4 1029.4,611.2 1028.2,612.3 1026.9,612.9 1025.4,613.2 1023.6,613 1021.6,612.2 1019.4,610.8 1015.4,607.7 1007.9,599.8 1003.4,596.4 999.9,594.2 997.6,593.4 996.6,593.4 995.1,594.1 992.6,596.2 990.9,598.8 988.9,603.1 985.6,611.8 983.9,617.5 981.6,626.4 977.9,643.1 973.4,666.7 971.6,675 967.6,689.6 964.1,700.1 961.9,705.3 958.4,711.9 955.9,716 953.6,718.9 951.9,720.4 949.4,721.4 947.1,721.6 944.9,721Z" clip-path="url(#cb6)" fill="rgba(255,230,235,0.47)" stroke="none"/>
<path d="M944.9,718 946.1,717.5 947.9,715.7 949.9,712.9 951.4,709.9 953.4,704.5 955.6,697.4 957.4,691.3 958.9,685 961.6,670.7 964.6,652.2 975.9,565.2 977.9,551.5 980.6,535.4 982.6,525.5 984.1,520.2 986.1,515.8 987.6,513.1 988.9,511.5 989.6,511 990.1,510.9 992.1,511.6 994.4,513.2 996.6,515.5 998.9,518.6 1001.6,523.2 1008.4,535.6 1015.6,549.5 1017.6,552.9 1019.4,555.4 1023.1,559.8 1027.2,563.5 1031.2,566.3 1033.4,567.5 1034.7,567.9 1037.2,567.5 1040.2,566 1043.4,563.7 1048.2,559.6 1052.2,555.3 1061.2,544.2 1072.2,532.2 1083.7,521.6 1087.2,518.8 1090.4,516.8 1096.4,514.2 1101.7,512.3 1106.2,511.3 1110.4,511 1115.9,511.3 1121.4,512.4 1126.4,514.1 1130.7,516.4 1139.4,522.2 1150.2,528.6 1155.4,531.9 1161.2,535.8 1166.2,539.6 1171.7,544.3 1179.9,552.1 1193.7,566.1 1204.4,577.9 1217.4,593.5 1227.9,604.8 1232.4,610.3 1241.7,623.2 1248.2,632.8 1261.2,653.8 1265.7,660.6 1272.4,669.9 1279.7,678.9 1291.7,692.5 1300.4,701.5 1305.7,706.1 1311.2,710.6 1315.7,713.9 1319.7,716.5" fill="none" stroke="#f6a04a" stroke-width="1.5" stroke-dasharray="3.4 2.6"/>
<path d="M944.9,721 947.1,721.6 949.4,721.4 951.9,720.4 953.6,718.9 955.9,716 958.4,711.9 961.9,705.3 964.1,700.1 967.6,689.6 971.6,675 973.4,666.7 977.9,643.1 981.6,626.4 983.9,617.5 985.6,611.8 988.9,603.1 990.9,598.8 992.6,596.2 995.1,594.1 996.6,593.4 997.6,593.4 999.9,594.2 1003.4,596.4 1007.9,599.8 1015.4,607.7 1019.4,610.8 1021.6,612.2 1023.6,613 1025.4,613.2 1026.9,612.9 1028.2,612.3 1029.4,611.2 1033.7,606.4 1035.4,604.8 1037.9,602.9 1044.4,598.5 1048.2,595.1 1051.4,590.8 1058.2,579.4 1060.9,575.3 1068.2,567 1070.7,564.7 1073.2,562.7 1075.4,561.4 1080.9,559 1085.4,557.4 1089.4,556.3 1104.9,553.4 1110.4,552.7 1115.2,552.4 1119.2,552.6 1123.2,553.1 1127.7,553.9 1132.4,555.1 1134.4,556.2 1138.4,559.1 1140.2,560.2 1143.4,561.6 1150.4,564.2 1153.4,565.6 1160.2,569.4 1169.7,575.5 1179.4,582.5 1187.9,589.2 1197.4,597.4 1207.9,607.2 1220.4,619.9 1228.9,629.3 1232.2,633.2 1235.7,638.1 1238.9,642.9 1247.4,656.3 1256.4,668.7 1263.2,677.2 1272.2,688 1277.2,693.8 1281.4,698.3 1284.9,701.5 1291.7,707 1295.9,710.2 1299.9,712.6 1303.2,714.3 1311.4,717.7 1315.9,719.1 1319.7,719.8" fill="none" stroke="#f6a04a" stroke-width="1.5" stroke-dasharray="3.4 2.6"/>
<path d="M944.9,717 945.6,716 946.6,713.9 948.6,707.7 951.1,696.9 952.9,687.4 954.9,673.3 965.6,589.7 970.4,555.7 973.4,537.4 976.4,522.7 978.6,514.3 979.6,512 982.4,507.3 983.9,505.6 984.6,505.1 985.4,504.9 986.1,505 987.1,505.5 988.9,507.2 990.9,510.4 992.6,514.1 994.1,518.7 1003.9,552.3 1007.6,562.6 1011.1,571 1013.9,576.3 1020.4,586.4 1022.9,589.5 1024.2,590.5 1025.2,591 1026.7,591.1 1028.2,590.5 1029.7,589.4 1035.2,584.8 1037.7,583.4 1044.2,580.1 1047.9,577.6 1049.4,576.2 1051.2,574.2 1057.7,565.2 1060.4,561.8 1064.7,558.2 1069.7,554.7 1074.7,552 1085.4,547.8 1090.4,546.3 1099.2,544.7 1104.4,543.9 1108.9,543.4 1112.9,543.3 1116.9,543.4 1121.7,543.9 1126.9,544.6 1141.4,547.5 1150.9,550.3 1160.7,553.9 1171.7,558.9 1176.4,561.3 1180.7,563.8 1185.7,567.2 1194.4,573.7 1204.4,581.8 1211.2,588.3 1224.7,602.5 1230.9,609.7 1235.7,615.9 1240.9,623.6 1247.7,634.6 1252.4,641.3 1266.4,659.1 1280.2,677.3 1287.4,686.2 1295.9,696 1302.7,702.9 1312.2,711.1 1316.2,714 1319.7,716.2" fill="none" stroke="#4a40ea" stroke-width="1.5" stroke-dasharray="3.4 2.6"/>
<path d="M944.9,720.5 946.6,721.2 947.6,721.2 948.6,721 950.4,720 952.4,718.2 953.6,716.2 954.9,713.5 958.1,704.2 960.9,694.6 964.4,679 967.6,663.1 976.6,615.4 979.9,600.4 982.9,590.3 985.9,582.1 987.4,578.9 989.6,575.1 990.9,573.1 991.9,572.1 992.6,571.6 993.1,571.6 994.1,571.8 995.1,572.3 997.1,573.9 999.4,576.5 1002.4,580.9 1009.4,593.8 1014.1,600.6 1017.4,604.6 1019.4,606.6 1025.4,611.4 1027.9,612.7 1029.9,613 1032.4,612.3 1035.4,610.8 1047.7,603.6 1054.9,598.8 1062.9,592.7 1071.7,584 1074.7,581.4 1081.9,576.1 1086.9,573.1 1091.4,571.2 1099.4,568.8 1105.7,567.3 1113.7,565.9 1121.2,565.5 1126.4,565.6 1131.4,565.9 1136.4,566.6 1141.2,567.5 1146.2,569.1 1163.7,575.9 1172.9,580.3 1183.9,586.3 1195.9,594 1206.7,601.7 1214.9,608.3 1224.9,616.9 1231.7,623.2 1236.7,628.5 1241.2,634 1247.4,643.4 1252.4,650.3 1265.7,667.4 1280.4,685.4 1294.9,701.4 1301.2,707.2 1308.2,712.3 1314.4,716 1317.2,717.2 1319.7,718" fill="none" stroke="#4a40ea" stroke-width="1.5" stroke-dasharray="3.4 2.6"/>
<path d="M944.9,718.4 946.4,717.2 947.9,714.9 949.6,711.3 951.9,705.8 953.9,699.3 956.4,688.2 959.1,674 960.6,665 965.9,628.8 971.9,589.8 975.9,567.8 978.1,556.9 979.9,550.6 980.6,548.8 981.9,546.5 983.4,544.1 984.9,542.2 986.1,541.2 987.1,541 987.9,541.2 988.9,541.9 990.9,543.9 992.9,546.7 995.4,551 997.1,554.6 1001.9,566.2 1005.4,573.9 1008.9,581.2 1011.6,586.2 1016.9,594.6 1019.4,598.2 1021.9,600.8 1023.1,601.5 1024.2,601.9 1025.7,601.9 1027.4,601.7 1031.4,600.4 1037.4,597.3 1043.7,593.4 1048.4,590.1 1052.2,587.2 1072.9,569.7 1078.9,565.5 1083.9,562.4 1087.4,560.6 1090.7,559.3 1099.2,556.9 1104.7,555.6 1108.7,555 1112.2,554.6 1115.2,554.6 1119.4,554.8 1131.7,556.2 1141.9,557.8 1147.9,558.9 1153.7,560.3 1158.4,562 1168.9,566.7 1177.7,571.1 1186.9,576.3 1190.9,578.9 1193.9,581.2 1200.2,586.8 1215.2,601.6 1222.7,609.4 1228.7,616.1 1232.2,620.2 1239.9,629.9 1248.9,639.9 1255.9,648.9 1279.2,679.9 1283.4,685.2 1287.7,690 1295.4,698.1 1302.4,704.5 1312.2,712.3 1316.2,715 1319.7,717.1" fill="none" stroke="#3a33f0" stroke-width="2.6" stroke-linejoin="round"/>
<path d="M944.9,719.5 946.6,718.8 948.6,717 950.9,713.9 954.1,708.6 955.1,706.6 956.4,703.4 958.6,695.9 961.4,684.5 962.9,677 974.1,607.3 979.6,578.8 981.4,571.4 983.1,565.9 986.4,558.8 987.6,556.6 988.9,554.8 990.4,553.5 992.1,552.5 993.4,552.1 994.1,552.2 995.6,552.7 998.4,554.4 1001.4,557 1003.9,559.7 1005.9,562.6 1011.9,572.1 1016.9,578.6 1019.9,581.9 1022.1,583.7 1027.2,586.6 1029.9,587.4 1032.4,587.3 1035.4,586.3 1039.2,584.3 1043.4,581.5 1047.2,578.3 1049.9,575.5 1053.2,571.8 1072.4,548.3 1075.9,544.9 1082.2,539.8 1086.9,536.8 1091.2,534.9 1101.7,532.2 1105.4,531.7 1108.7,531.5 1112.9,531.7 1117.4,532.3 1122.4,533.2 1127.2,534.3 1133.9,536.9 1148.9,543.6 1160.7,549.3 1166.9,553 1171.9,556.8 1185.2,568.2 1190.4,573 1194.7,577.4 1204.9,588.8 1213.9,598.5 1218.7,604.1 1223.9,611.2 1232.9,624.3 1240.4,635.7 1246.9,646.3 1251.2,652.4 1260.7,664.8 1275.9,683.9 1281.9,691 1292.9,702.3 1296.9,705.9 1300.7,708.9 1306.7,712.9 1311.9,715.9 1315.9,717.7 1319.7,718.9" fill="none" stroke="#fb8f22" stroke-width="2.6" stroke-linejoin="round"/>
<path d="M1061.9,880.8 1061.9,880.8 1063.9,880.8 1068.2,882.6 1075.9,885.6 1081.7,887.5 1088.4,888.6 1094.2,889 1103.9,888.4 1116.9,886.5 1121.7,885.5 1127.4,884 1132.7,882.5 1137.9,880.8 1139.9,880.8 1139.9,880.8Z" fill="#d9d5d7" stroke="none"/>
<path d="M1266.2,830.6 1266.2,829.9 1273.2,827.9 1278.7,826 1282.2,824.5 1285.7,822.3 1290.4,818.7 1299.4,811.2 1302.9,807.7 1307.4,802.8 1309.7,799.8 1311.7,796.3 1313.9,791.4 1316.4,785 1317.2,782.2 1318.4,774.2 1320.2,760 1321.7,742.9 1321.7,830.6Z" fill="#d9d5d7" stroke="none"/>
<path d="M944.9,487.9 V722.8 H1321.6" fill="none" stroke="#000" stroke-width="2"/>
<path d="M938.9,722.8 H944.9 M938.9,644.8 H944.9 M938.9,566.9 H944.9 M938.9,488.9 H944.9 M941.9,683.8 H944.9 M941.9,605.8 H944.9 M941.9,527.9 H944.9 M944.9,722.8 V728.3 M1038.8,722.8 V728.3 M1132.8,722.8 V728.3 M1226.7,722.8 V728.3 M1320.6,722.8 V728.3" stroke="#000" stroke-width="2" fill="none"/>
<text x="934.9" y="729.1" font-size="19" text-anchor="end" >0</text>
<text x="934.9" y="651.1" font-size="19" text-anchor="end" >1</text>
<text x="934.9" y="573.2" font-size="19" text-anchor="end" >2</text>
<text x="934.9" y="495.2" font-size="19" text-anchor="end" >3</text>
<path d="M946.9,741.3 V893.5 H1321.6" fill="none" stroke="#000" stroke-width="2"/>
<path d="M940.9,742.3 H946.9 M940.9,780.1 H946.9 M940.9,817.9 H946.9 M940.9,855.7 H946.9 M940.9,893.5 H946.9 M946.9,893.5 V899.0 M1040.3,893.5 V899.0 M1133.8,893.5 V899.0 M1227.2,893.5 V899.0 M1320.6,893.5 V899.0" stroke="#000" stroke-width="2" fill="none"/>
<text x="936.9" y="748.6" font-size="19" text-anchor="end" >15</text>
<text x="936.9" y="786.4" font-size="19" text-anchor="end" >10</text>
<text x="936.9" y="824.2" font-size="19" text-anchor="end" >5</text>
<text x="936.9" y="862.0" font-size="19" text-anchor="end" >0</text>
<text x="936.9" y="899.8" font-size="19" text-anchor="end" >-5</text>
<text x="946.9" y="918.3" font-size="19" text-anchor="middle" >0</text>
<text x="1040.3" y="918.3" font-size="19" text-anchor="middle" >25</text>
<text x="1133.8" y="918.3" font-size="19" text-anchor="middle" >50</text>
<text x="1227.2" y="918.3" font-size="19" text-anchor="middle" >75</text>
<text x="1320.6" y="918.3" font-size="19" text-anchor="middle" >100</text>
<path d="M947.9,830.6 H1320.6" stroke="#8a8a8a" stroke-width="1.6" stroke-dasharray="7 7.4" fill="none"/>
<path d="M947.9,880.8 H1320.6" stroke="#8a8a8a" stroke-width="1.6" stroke-dasharray="7 7.4" fill="none"/>
<path d="M947.4,830.9 950.4,836.3 952.6,839.5 956.9,843.8 958.4,844.9 959.6,845.6 965.9,847.4 969.6,848 972.9,847.7 988.1,845.7 989.9,845.6 991.4,846.2 993.1,847.5 997.1,851.2 1004.1,859.4 1011.6,866.7 1015.4,869.5 1021.1,872.3 1025.9,873.9 1029.9,874.5 1033.7,874.2 1042.7,872.8 1045.2,872.7 1047.4,872.9 1050.7,873.8 1054.9,875.5 1061.9,879.8" fill="none" stroke="#000" stroke-width="2.1" stroke-linejoin="round"/>
<path d="M1061.9,879.8 1068.7,882.8 1076.9,886 1080.7,887.2 1083.4,887.9 1087.4,888.5 1093.9,889 1098.7,888.8 1104.2,888.3 1117.9,886.3 1123.7,885 1131.4,882.9 1139.9,880.1" fill="none" stroke="#c8000a" stroke-width="1.9" stroke-linejoin="round"/>
<path d="M1139.9,880.1 1156.4,876.2 1162.9,874.3 1170.7,871.3 1192.7,862 1199.7,858.8 1205.9,855.7 1238.2,838.1 1244.7,835 1247.7,833.9 1251.2,833 1266.2,829.9" fill="none" stroke="#000" stroke-width="2.1" stroke-linejoin="round"/>
<path d="M1266.2,829.9 1273.2,827.9 1278.7,826 1282.2,824.5 1285.7,822.3 1290.4,818.7 1299.4,811.2 1302.9,807.7 1307.4,802.8 1309.7,799.8 1311.7,796.3 1313.9,791.4 1316.4,785 1317.2,782.2 1318.4,774.2 1320.2,760 1321.7,742.9" fill="none" stroke="#c8000a" stroke-width="1.9" stroke-linejoin="round"/>
<path d="M1062.0,488.9 V893.5" stroke="#c4000b" stroke-width="2.6" stroke-dasharray="8.6 7.5" fill="none"/>
<path d="M1139.9,488.9 V893.5" stroke="#c4000b" stroke-width="2.6" stroke-dasharray="8.6 7.5" fill="none"/>
<path d="M1266.4,488.9 V893.5" stroke="#c4000b" stroke-width="2.6" stroke-dasharray="8.6 7.5" fill="none"/>
<path d="M1320.6,488.9 V893.5" stroke="#c4000b" stroke-width="2.6" stroke-dasharray="8.6 7.5" fill="none"/>
<text x="956.5" y="503.8" font-size="21" text-anchor="start" >16 km/h</text>
<text x="961.2" y="769.4" font-size="19" text-anchor="start" >t<tspan dy="-9.5" font-size="17">*</tspan><tspan dy="9.5">=3.315</tspan></text>
<text x="346.8" y="130.6" font-size="19" textLength="60.0" lengthAdjust="spacingAndGlyphs">p&lt;0.001</text>
<text x="339.9" y="329.9" font-size="19" textLength="61.0" lengthAdjust="spacingAndGlyphs">p&lt;0.001</text>
<text x="811.9" y="127.1" font-size="19" textLength="59.2" lengthAdjust="spacingAndGlyphs">p&lt;0.001</text>
<text x="811.7" y="300.6" font-size="19" textLength="60.4" lengthAdjust="spacingAndGlyphs">p&lt;0.001</text>
<text x="1252.4" y="128.0" font-size="19" textLength="60.1" lengthAdjust="spacingAndGlyphs">p&lt;0.001</text>
<text x="1250.5" y="299.5" font-size="19" textLength="61.6" lengthAdjust="spacingAndGlyphs">p&lt;0.001</text>
<text x="1524.1" y="155.6" font-size="19" textLength="59.6" lengthAdjust="spacingAndGlyphs">p&lt;0.001</text>
<text x="1691.8" y="98.9" font-size="19" textLength="61.0" lengthAdjust="spacingAndGlyphs">p&lt;0.001</text>
<text x="1526.2" y="402.2" font-size="19" textLength="59.7" lengthAdjust="spacingAndGlyphs">p&lt;0.001</text>
<text x="1691.4" y="300.6" font-size="19" textLength="61.6" lengthAdjust="spacingAndGlyphs">p&lt;0.001</text>
<text x="365.0" y="625.8" font-size="19" textLength="60.1" lengthAdjust="spacingAndGlyphs">p&lt;0.001</text>
<text x="360.6" y="791.4" font-size="19" textLength="60.8" lengthAdjust="spacingAndGlyphs">p&lt;0.001</text>
<text x="628.0" y="650.4" font-size="19" textLength="59.5" lengthAdjust="spacingAndGlyphs">p&lt;0.001</text>
<text x="814.0" y="573.6" font-size="19" textLength="60.0" lengthAdjust="spacingAndGlyphs">p&lt;0.001</text>
<text x="625.0" y="856.8" font-size="19" textLength="61.5" lengthAdjust="spacingAndGlyphs">p&lt;0.001</text>
<text x="807.2" y="791.0" font-size="19" textLength="60.8" lengthAdjust="spacingAndGlyphs">p&lt;0.001</text>
<text x="1072.2" y="650.4" font-size="19" textLength="59.5" lengthAdjust="spacingAndGlyphs">p&lt;0.001</text>
<text x="1249.2" y="609.0" font-size="19" textLength="60.1" lengthAdjust="spacingAndGlyphs">p&lt;0.001</text>
<text x="1075.0" y="865.9" font-size="19" textLength="61.0" lengthAdjust="spacingAndGlyphs">p&lt;0.001</text>
<text x="1250.6" y="791.4" font-size="19" textLength="60.8" lengthAdjust="spacingAndGlyphs">p&lt;0.001</text>
<text x="0.0" y="0.0" font-size="19.5" text-anchor="middle" transform="translate(25.4,132.3) rotate(-90)">Vertical GRF (BW)</text>
<text x="0.0" y="0.0" font-size="19.5" text-anchor="middle" transform="translate(23,342) rotate(-90)">SPM{t}</text>
<text x="0.0" y="0.0" font-size="19.5" text-anchor="middle" transform="translate(25.4,607) rotate(-90)">Vertical GRF (BW)</text>
<text x="0.0" y="0.0" font-size="19.5" text-anchor="middle" transform="translate(23,817) rotate(-90)">SPM{t}</text>
<path d="M471.6,526.9 L475.1,530.1 M471.9,566.8 L474.7,564.4" stroke="#111" stroke-width="1.4" stroke-linecap="round" fill="none"/>
<path d="M1456,615.2 H1700.5" stroke="#2b2bf8" stroke-width="5.2"/>
<path d="M1456,738.7 H1700.5" stroke="#fb8f22" stroke-width="5.2"/>
<text x="1578.5" y="677.8" font-size="26.5" text-anchor="middle" textLength="174.5" lengthAdjust="spacingAndGlyphs">Female runner</text>
<text x="1584.4" y="797.0" font-size="26.5" text-anchor="middle" textLength="148.5" lengthAdjust="spacingAndGlyphs">Male runner</text></svg>
</body></html>
